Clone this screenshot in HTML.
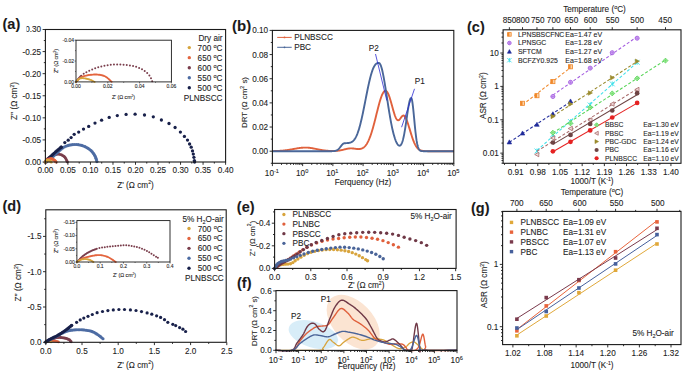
<!DOCTYPE html><html><head><meta charset="utf-8"><style>
html,body{margin:0;padding:0;background:#fff;}
svg{display:block;}
text{stroke:#333;stroke-width:0.1px;}
</style></head><body>
<svg width="685" height="373" viewBox="0 0 685 373" font-family='"Liberation Sans", sans-serif'>
<rect width="685" height="373" fill="#fff"/>
<circle cx="45.4" cy="162" r="1.4" fill="#7a3e4c"/>
<circle cx="46.04" cy="160.99" r="1.4" fill="#7a3e4c"/>
<circle cx="46.68" cy="159.97" r="1.4" fill="#7a3e4c"/>
<circle cx="47.4" cy="159.01" r="1.4" fill="#7a3e4c"/>
<circle cx="48.24" cy="158.15" r="1.4" fill="#7a3e4c"/>
<circle cx="49.21" cy="157.46" r="1.4" fill="#7a3e4c"/>
<circle cx="50.25" cy="156.86" r="1.4" fill="#7a3e4c"/>
<circle cx="51.32" cy="156.32" r="1.4" fill="#7a3e4c"/>
<circle cx="52.41" cy="155.81" r="1.4" fill="#7a3e4c"/>
<circle cx="53.52" cy="155.35" r="1.4" fill="#7a3e4c"/>
<circle cx="54.64" cy="154.94" r="1.4" fill="#7a3e4c"/>
<circle cx="55.79" cy="154.59" r="1.4" fill="#7a3e4c"/>
<circle cx="56.96" cy="154.32" r="1.4" fill="#7a3e4c"/>
<circle cx="58.16" cy="154.22" r="1.4" fill="#7a3e4c"/>
<circle cx="59.35" cy="154.31" r="1.4" fill="#7a3e4c"/>
<circle cx="60.52" cy="154.59" r="1.4" fill="#7a3e4c"/>
<circle cx="61.64" cy="155.02" r="1.4" fill="#7a3e4c"/>
<circle cx="62.7" cy="155.57" r="1.4" fill="#7a3e4c"/>
<circle cx="63.71" cy="156.23" r="1.4" fill="#7a3e4c"/>
<circle cx="64.64" cy="156.99" r="1.4" fill="#7a3e4c"/>
<circle cx="65.38" cy="157.92" r="1.4" fill="#7a3e4c"/>
<circle cx="65.99" cy="158.96" r="1.4" fill="#7a3e4c"/>
<circle cx="66.51" cy="160.04" r="1.4" fill="#7a3e4c"/>
<circle cx="66.98" cy="161.14" r="1.4" fill="#7a3e4c"/>
<circle cx="67.38" cy="162" r="1.4" fill="#7a3e4c"/>
<circle cx="46.3" cy="162" r="1.6" fill="#4d6ca3"/>
<circle cx="47.73" cy="160.91" r="1.6" fill="#4d6ca3"/>
<circle cx="49.16" cy="159.81" r="1.6" fill="#4d6ca3"/>
<circle cx="50.56" cy="158.68" r="1.6" fill="#4d6ca3"/>
<circle cx="51.91" cy="157.49" r="1.6" fill="#4d6ca3"/>
<circle cx="53.24" cy="156.28" r="1.6" fill="#4d6ca3"/>
<circle cx="54.56" cy="155.06" r="1.6" fill="#4d6ca3"/>
<circle cx="55.9" cy="153.85" r="1.6" fill="#4d6ca3"/>
<circle cx="57.24" cy="152.65" r="1.6" fill="#4d6ca3"/>
<circle cx="58.56" cy="151.43" r="1.6" fill="#4d6ca3"/>
<circle cx="59.88" cy="150.21" r="1.6" fill="#4d6ca3"/>
<circle cx="61.24" cy="149.02" r="1.6" fill="#4d6ca3"/>
<circle cx="62.66" cy="147.92" r="1.6" fill="#4d6ca3"/>
<circle cx="64.2" cy="146.98" r="1.6" fill="#4d6ca3"/>
<circle cx="65.83" cy="146.23" r="1.6" fill="#4d6ca3"/>
<circle cx="67.53" cy="145.65" r="1.6" fill="#4d6ca3"/>
<circle cx="69.28" cy="145.19" r="1.6" fill="#4d6ca3"/>
<circle cx="71.04" cy="144.83" r="1.6" fill="#4d6ca3"/>
<circle cx="72.82" cy="144.59" r="1.6" fill="#4d6ca3"/>
<circle cx="74.62" cy="144.48" r="1.6" fill="#4d6ca3"/>
<circle cx="76.42" cy="144.52" r="1.6" fill="#4d6ca3"/>
<circle cx="78.21" cy="144.69" r="1.6" fill="#4d6ca3"/>
<circle cx="79.98" cy="144.98" r="1.6" fill="#4d6ca3"/>
<circle cx="81.73" cy="145.41" r="1.6" fill="#4d6ca3"/>
<circle cx="83.43" cy="146" r="1.6" fill="#4d6ca3"/>
<circle cx="85.08" cy="146.71" r="1.6" fill="#4d6ca3"/>
<circle cx="86.69" cy="147.53" r="1.6" fill="#4d6ca3"/>
<circle cx="88.24" cy="148.45" r="1.6" fill="#4d6ca3"/>
<circle cx="89.71" cy="149.48" r="1.6" fill="#4d6ca3"/>
<circle cx="91.08" cy="150.65" r="1.6" fill="#4d6ca3"/>
<circle cx="92.31" cy="151.96" r="1.6" fill="#4d6ca3"/>
<circle cx="93.42" cy="153.38" r="1.6" fill="#4d6ca3"/>
<circle cx="94.41" cy="154.88" r="1.6" fill="#4d6ca3"/>
<circle cx="95.28" cy="156.45" r="1.6" fill="#4d6ca3"/>
<circle cx="95.93" cy="158.13" r="1.6" fill="#4d6ca3"/>
<circle cx="96.46" cy="159.85" r="1.6" fill="#4d6ca3"/>
<circle cx="96.94" cy="161.58" r="1.6" fill="#4d6ca3"/>
<circle cx="45.4" cy="162.2" r="1.6" fill="#18204a"/>
<circle cx="46.45" cy="160.99" r="1.6" fill="#18204a"/>
<circle cx="47.51" cy="159.79" r="1.6" fill="#18204a"/>
<circle cx="48.59" cy="158.61" r="1.6" fill="#18204a"/>
<circle cx="49.7" cy="157.46" r="1.6" fill="#18204a"/>
<circle cx="50.83" cy="156.33" r="1.6" fill="#18204a"/>
<circle cx="51.98" cy="155.21" r="1.6" fill="#18204a"/>
<circle cx="53.14" cy="154.12" r="1.6" fill="#18204a"/>
<circle cx="54.32" cy="153.04" r="1.6" fill="#18204a"/>
<circle cx="55.52" cy="151.97" r="1.6" fill="#18204a"/>
<circle cx="56.72" cy="150.92" r="1.6" fill="#18204a"/>
<circle cx="57.95" cy="149.89" r="1.6" fill="#18204a"/>
<circle cx="59.18" cy="148.87" r="1.6" fill="#18204a"/>
<circle cx="60.41" cy="147.85" r="1.6" fill="#18204a"/>
<circle cx="61.2" cy="147.2" r="1.6" fill="#18204a"/>
<circle cx="61.2" cy="147.2" r="1.65" fill="#18204a"/>
<circle cx="64.8" cy="142.6" r="1.65" fill="#18204a"/>
<circle cx="68.2" cy="140.2" r="1.65" fill="#18204a"/>
<circle cx="71.1" cy="137.6" r="1.65" fill="#18204a"/>
<circle cx="74.2" cy="134.3" r="1.65" fill="#18204a"/>
<circle cx="78.7" cy="132.1" r="1.65" fill="#18204a"/>
<circle cx="83.5" cy="129.1" r="1.65" fill="#18204a"/>
<circle cx="88.7" cy="126.4" r="1.65" fill="#18204a"/>
<circle cx="95" cy="123.1" r="1.65" fill="#18204a"/>
<circle cx="101.6" cy="120.2" r="1.65" fill="#18204a"/>
<circle cx="109.2" cy="117.4" r="1.65" fill="#18204a"/>
<circle cx="117.3" cy="115.6" r="1.65" fill="#18204a"/>
<circle cx="126.1" cy="114.4" r="1.65" fill="#18204a"/>
<circle cx="135.1" cy="114.2" r="1.65" fill="#18204a"/>
<circle cx="144.5" cy="115" r="1.65" fill="#18204a"/>
<circle cx="153.3" cy="116.8" r="1.65" fill="#18204a"/>
<circle cx="161.4" cy="120" r="1.65" fill="#18204a"/>
<circle cx="169" cy="123.5" r="1.65" fill="#18204a"/>
<circle cx="175.1" cy="127.5" r="1.65" fill="#18204a"/>
<circle cx="180.4" cy="132.1" r="1.65" fill="#18204a"/>
<circle cx="184.4" cy="136.4" r="1.65" fill="#18204a"/>
<circle cx="187.5" cy="140.1" r="1.65" fill="#18204a"/>
<circle cx="189.6" cy="144" r="1.65" fill="#18204a"/>
<circle cx="191.2" cy="147.2" r="1.65" fill="#18204a"/>
<circle cx="192.5" cy="150.9" r="1.65" fill="#18204a"/>
<circle cx="193.3" cy="154.1" r="1.65" fill="#18204a"/>
<circle cx="193.9" cy="157.3" r="1.65" fill="#18204a"/>
<circle cx="194.4" cy="160.6" r="1.65" fill="#18204a"/>
<circle cx="194.6" cy="162" r="1.65" fill="#18204a"/>
<circle cx="45.4" cy="162" r="1.6" fill="#e3653f"/>
<circle cx="45.93" cy="160.93" r="1.6" fill="#e3653f"/>
<circle cx="46.87" cy="160.2" r="1.6" fill="#e3653f"/>
<circle cx="47.92" cy="159.62" r="1.6" fill="#e3653f"/>
<circle cx="49.01" cy="159.11" r="1.6" fill="#e3653f"/>
<circle cx="50.15" cy="158.74" r="1.6" fill="#e3653f"/>
<circle cx="51.34" cy="158.72" r="1.6" fill="#e3653f"/>
<circle cx="52.49" cy="159.05" r="1.6" fill="#e3653f"/>
<circle cx="53.57" cy="159.57" r="1.6" fill="#e3653f"/>
<circle cx="54.56" cy="160.25" r="1.6" fill="#e3653f"/>
<circle cx="55.37" cy="161.13" r="1.6" fill="#e3653f"/>
<circle cx="56.08" cy="162" r="1.6" fill="#e3653f"/>
<circle cx="45.4" cy="162" r="1.5" fill="#d6a43c"/>
<circle cx="46.17" cy="161.08" r="1.5" fill="#d6a43c"/>
<circle cx="47.06" cy="160.29" r="1.5" fill="#d6a43c"/>
<circle cx="48.24" cy="160.24" r="1.5" fill="#d6a43c"/>
<circle cx="49.37" cy="160.64" r="1.5" fill="#d6a43c"/>
<circle cx="50.38" cy="161.27" r="1.5" fill="#d6a43c"/>
<circle cx="51.26" cy="162" r="1.5" fill="#d6a43c"/>
<rect x="45.4" y="29.5" width="180.2" height="132.5" fill="none" stroke="#1a1a1a" stroke-width="1.1"/>
<line x1="42.6" y1="162" x2="45.4" y2="162" stroke="#1a1a1a" stroke-width="0.9" />
<text x="41.1" y="164.95" font-size="8.2" text-anchor="end" font-weight="normal" fill="#1a1a1a" >0.00</text>
<line x1="42.6" y1="139.92" x2="45.4" y2="139.92" stroke="#1a1a1a" stroke-width="0.9" />
<text x="41.1" y="142.87" font-size="8.2" text-anchor="end" font-weight="normal" fill="#1a1a1a" >-0.05</text>
<line x1="42.6" y1="117.83" x2="45.4" y2="117.83" stroke="#1a1a1a" stroke-width="0.9" />
<text x="41.1" y="120.79" font-size="8.2" text-anchor="end" font-weight="normal" fill="#1a1a1a" >-0.10</text>
<line x1="42.6" y1="95.75" x2="45.4" y2="95.75" stroke="#1a1a1a" stroke-width="0.9" />
<text x="41.1" y="98.7" font-size="8.2" text-anchor="end" font-weight="normal" fill="#1a1a1a" >-0.15</text>
<line x1="42.6" y1="73.67" x2="45.4" y2="73.67" stroke="#1a1a1a" stroke-width="0.9" />
<text x="41.1" y="76.62" font-size="8.2" text-anchor="end" font-weight="normal" fill="#1a1a1a" >-0.20</text>
<line x1="42.6" y1="51.58" x2="45.4" y2="51.58" stroke="#1a1a1a" stroke-width="0.9" />
<text x="41.1" y="54.54" font-size="8.2" text-anchor="end" font-weight="normal" fill="#1a1a1a" >-0.25</text>
<line x1="42.6" y1="29.5" x2="45.4" y2="29.5" stroke="#1a1a1a" stroke-width="0.9" />
<text x="41.1" y="32.45" font-size="8.2" text-anchor="end" font-weight="normal" fill="#1a1a1a" >-0.30</text>
<line x1="43.8" y1="150.96" x2="45.4" y2="150.96" stroke="#1a1a1a" stroke-width="0.9" />
<line x1="43.8" y1="128.88" x2="45.4" y2="128.88" stroke="#1a1a1a" stroke-width="0.9" />
<line x1="43.8" y1="106.79" x2="45.4" y2="106.79" stroke="#1a1a1a" stroke-width="0.9" />
<line x1="43.8" y1="84.71" x2="45.4" y2="84.71" stroke="#1a1a1a" stroke-width="0.9" />
<line x1="43.8" y1="62.62" x2="45.4" y2="62.62" stroke="#1a1a1a" stroke-width="0.9" />
<line x1="43.8" y1="40.54" x2="45.4" y2="40.54" stroke="#1a1a1a" stroke-width="0.9" />
<line x1="45.4" y1="162" x2="45.4" y2="164.8" stroke="#1a1a1a" stroke-width="0.9" />
<text x="45.4" y="173.4" font-size="8.2" text-anchor="middle" font-weight="normal" fill="#1a1a1a" >0.00</text>
<line x1="67.92" y1="162" x2="67.92" y2="164.8" stroke="#1a1a1a" stroke-width="0.9" />
<text x="67.92" y="173.4" font-size="8.2" text-anchor="middle" font-weight="normal" fill="#1a1a1a" >0.05</text>
<line x1="90.45" y1="162" x2="90.45" y2="164.8" stroke="#1a1a1a" stroke-width="0.9" />
<text x="90.45" y="173.4" font-size="8.2" text-anchor="middle" font-weight="normal" fill="#1a1a1a" >0.10</text>
<line x1="112.97" y1="162" x2="112.97" y2="164.8" stroke="#1a1a1a" stroke-width="0.9" />
<text x="112.97" y="173.4" font-size="8.2" text-anchor="middle" font-weight="normal" fill="#1a1a1a" >0.15</text>
<line x1="135.5" y1="162" x2="135.5" y2="164.8" stroke="#1a1a1a" stroke-width="0.9" />
<text x="135.5" y="173.4" font-size="8.2" text-anchor="middle" font-weight="normal" fill="#1a1a1a" >0.20</text>
<line x1="158.02" y1="162" x2="158.02" y2="164.8" stroke="#1a1a1a" stroke-width="0.9" />
<text x="158.02" y="173.4" font-size="8.2" text-anchor="middle" font-weight="normal" fill="#1a1a1a" >0.25</text>
<line x1="180.55" y1="162" x2="180.55" y2="164.8" stroke="#1a1a1a" stroke-width="0.9" />
<text x="180.55" y="173.4" font-size="8.2" text-anchor="middle" font-weight="normal" fill="#1a1a1a" >0.30</text>
<line x1="203.07" y1="162" x2="203.07" y2="164.8" stroke="#1a1a1a" stroke-width="0.9" />
<text x="203.07" y="173.4" font-size="8.2" text-anchor="middle" font-weight="normal" fill="#1a1a1a" >0.35</text>
<line x1="225.6" y1="162" x2="225.6" y2="164.8" stroke="#1a1a1a" stroke-width="0.9" />
<text x="225.6" y="173.4" font-size="8.2" text-anchor="middle" font-weight="normal" fill="#1a1a1a" >0.40</text>
<line x1="56.66" y1="162" x2="56.66" y2="163.6" stroke="#1a1a1a" stroke-width="0.9" />
<line x1="79.19" y1="162" x2="79.19" y2="163.6" stroke="#1a1a1a" stroke-width="0.9" />
<line x1="101.71" y1="162" x2="101.71" y2="163.6" stroke="#1a1a1a" stroke-width="0.9" />
<line x1="124.24" y1="162" x2="124.24" y2="163.6" stroke="#1a1a1a" stroke-width="0.9" />
<line x1="146.76" y1="162" x2="146.76" y2="163.6" stroke="#1a1a1a" stroke-width="0.9" />
<line x1="169.29" y1="162" x2="169.29" y2="163.6" stroke="#1a1a1a" stroke-width="0.9" />
<line x1="191.81" y1="162" x2="191.81" y2="163.6" stroke="#1a1a1a" stroke-width="0.9" />
<line x1="214.34" y1="162" x2="214.34" y2="163.6" stroke="#1a1a1a" stroke-width="0.9" />
<text x="135.5" y="187.5" font-size="8.2" text-anchor="middle" font-weight="normal" fill="#1a1a1a" >Z' (Ω cm<tspan dy="-3.12" font-size="5.08">2</tspan><tspan dy="3.12">)</tspan></text>
<text x="16.8" y="101" font-size="8.2" text-anchor="middle" font-weight="normal" fill="#1a1a1a" transform="rotate(-90 16.8 101)">Z'' (Ω cm<tspan dy="-3.12" font-size="5.08">2</tspan><tspan dy="3.12">)</tspan></text>
<rect x="0" y="12" width="26.5" height="22" fill="#fff"/>
<text x="2.5" y="28.8" font-size="14.5" text-anchor="start" font-weight="bold" fill="#1a1a1a" >(a)</text>
<text x="222.5" y="40.5" font-size="8.2" text-anchor="end" font-weight="normal" fill="#1a1a1a" >Dry air</text>
<circle cx="189.3" cy="47.6" r="1.7" fill="#d6a43c"/>
<text x="197.6" y="50.6" font-size="8.2" text-anchor="start" font-weight="normal" fill="#1a1a1a" >700 <tspan font-size="5.5" dy="-2.6">o</tspan><tspan dy="2.6">C</tspan></text>
<circle cx="189.3" cy="57.65" r="1.7" fill="#e3653f"/>
<text x="197.6" y="60.65" font-size="8.2" text-anchor="start" font-weight="normal" fill="#1a1a1a" >650 <tspan font-size="5.5" dy="-2.6">o</tspan><tspan dy="2.6">C</tspan></text>
<circle cx="189.3" cy="67.7" r="1.7" fill="#7a3e4c"/>
<text x="197.6" y="70.7" font-size="8.2" text-anchor="start" font-weight="normal" fill="#1a1a1a" >600 <tspan font-size="5.5" dy="-2.6">o</tspan><tspan dy="2.6">C</tspan></text>
<circle cx="189.3" cy="77.75" r="1.7" fill="#4d6ca3"/>
<text x="197.6" y="80.75" font-size="8.2" text-anchor="start" font-weight="normal" fill="#1a1a1a" >550 <tspan font-size="5.5" dy="-2.6">o</tspan><tspan dy="2.6">C</tspan></text>
<circle cx="189.3" cy="87.8" r="1.7" fill="#18204a"/>
<text x="197.6" y="90.8" font-size="8.2" text-anchor="start" font-weight="normal" fill="#1a1a1a" >500 <tspan font-size="5.5" dy="-2.6">o</tspan><tspan dy="2.6">C</tspan></text>
<text x="222.5" y="100.5" font-size="8.2" text-anchor="end" font-weight="normal" fill="#1a1a1a" >PLNBSCC</text>
<circle cx="76" cy="81.9" r="1.0" fill="#7a3e4c"/>
<circle cx="76.6" cy="81.1" r="1.0" fill="#7a3e4c"/>
<circle cx="77.19" cy="80.29" r="1.0" fill="#7a3e4c"/>
<circle cx="77.79" cy="79.49" r="1.0" fill="#7a3e4c"/>
<circle cx="78.4" cy="78.7" r="1.0" fill="#7a3e4c"/>
<circle cx="79.04" cy="77.93" r="1.0" fill="#7a3e4c"/>
<circle cx="79.71" cy="77.19" r="1.0" fill="#7a3e4c"/>
<circle cx="80.42" cy="76.48" r="1.0" fill="#7a3e4c"/>
<circle cx="81.17" cy="75.83" r="1.0" fill="#7a3e4c"/>
<circle cx="83.7" cy="73.86" r="1.0" fill="#7a3e4c"/>
<circle cx="86.4" cy="72.15" r="1.0" fill="#7a3e4c"/>
<circle cx="89.25" cy="70.71" r="1.0" fill="#7a3e4c"/>
<circle cx="92.2" cy="69.45" r="1.0" fill="#7a3e4c"/>
<circle cx="95.19" cy="68.33" r="1.0" fill="#7a3e4c"/>
<circle cx="98.23" cy="67.34" r="1.0" fill="#7a3e4c"/>
<circle cx="101.32" cy="66.5" r="1.0" fill="#7a3e4c"/>
<circle cx="104.45" cy="65.82" r="1.0" fill="#7a3e4c"/>
<circle cx="107.6" cy="65.27" r="1.0" fill="#7a3e4c"/>
<circle cx="110.77" cy="64.86" r="1.0" fill="#7a3e4c"/>
<circle cx="113.96" cy="64.58" r="1.0" fill="#7a3e4c"/>
<circle cx="117.16" cy="64.46" r="1.0" fill="#7a3e4c"/>
<circle cx="120.36" cy="64.49" r="1.0" fill="#7a3e4c"/>
<circle cx="123.55" cy="64.65" r="1.0" fill="#7a3e4c"/>
<circle cx="126.74" cy="64.95" r="1.0" fill="#7a3e4c"/>
<circle cx="129.91" cy="65.4" r="1.0" fill="#7a3e4c"/>
<circle cx="133.05" cy="66.03" r="1.0" fill="#7a3e4c"/>
<circle cx="136.14" cy="66.85" r="1.0" fill="#7a3e4c"/>
<circle cx="139.15" cy="67.93" r="1.0" fill="#7a3e4c"/>
<circle cx="142.03" cy="69.32" r="1.0" fill="#7a3e4c"/>
<circle cx="144.71" cy="71.06" r="1.0" fill="#7a3e4c"/>
<circle cx="147.17" cy="73.1" r="1.0" fill="#7a3e4c"/>
<circle cx="149.38" cy="75.42" r="1.0" fill="#7a3e4c"/>
<circle cx="150.99" cy="78.17" r="1.0" fill="#7a3e4c"/>
<circle cx="152.17" cy="81.15" r="1.0" fill="#7a3e4c"/>
<circle cx="76" cy="81.9" r="0.95" fill="#e3653f"/>
<circle cx="76.71" cy="81.2" r="0.95" fill="#e3653f"/>
<circle cx="77.4" cy="80.47" r="0.95" fill="#e3653f"/>
<circle cx="78.09" cy="79.75" r="0.95" fill="#e3653f"/>
<circle cx="78.81" cy="79.06" r="0.95" fill="#e3653f"/>
<circle cx="79.56" cy="78.4" r="0.95" fill="#e3653f"/>
<circle cx="80.36" cy="77.79" r="0.95" fill="#e3653f"/>
<circle cx="81.2" cy="77.25" r="0.95" fill="#e3653f"/>
<circle cx="82.09" cy="76.8" r="0.95" fill="#e3653f"/>
<circle cx="83.02" cy="76.44" r="0.95" fill="#e3653f"/>
<circle cx="83.98" cy="76.14" r="0.95" fill="#e3653f"/>
<circle cx="84.94" cy="75.87" r="0.95" fill="#e3653f"/>
<circle cx="85.91" cy="75.63" r="0.95" fill="#e3653f"/>
<circle cx="86.89" cy="75.42" r="0.95" fill="#e3653f"/>
<circle cx="87.87" cy="75.23" r="0.95" fill="#e3653f"/>
<circle cx="88.86" cy="75.06" r="0.95" fill="#e3653f"/>
<circle cx="89.85" cy="74.91" r="0.95" fill="#e3653f"/>
<circle cx="90.84" cy="74.79" r="0.95" fill="#e3653f"/>
<circle cx="91.83" cy="74.68" r="0.95" fill="#e3653f"/>
<circle cx="92.83" cy="74.59" r="0.95" fill="#e3653f"/>
<circle cx="93.83" cy="74.53" r="0.95" fill="#e3653f"/>
<circle cx="94.82" cy="74.49" r="0.95" fill="#e3653f"/>
<circle cx="95.82" cy="74.49" r="0.95" fill="#e3653f"/>
<circle cx="96.82" cy="74.52" r="0.95" fill="#e3653f"/>
<circle cx="97.82" cy="74.58" r="0.95" fill="#e3653f"/>
<circle cx="98.82" cy="74.68" r="0.95" fill="#e3653f"/>
<circle cx="99.81" cy="74.82" r="0.95" fill="#e3653f"/>
<circle cx="100.79" cy="74.99" r="0.95" fill="#e3653f"/>
<circle cx="101.77" cy="75.21" r="0.95" fill="#e3653f"/>
<circle cx="102.73" cy="75.48" r="0.95" fill="#e3653f"/>
<circle cx="103.68" cy="75.79" r="0.95" fill="#e3653f"/>
<circle cx="104.61" cy="76.16" r="0.95" fill="#e3653f"/>
<circle cx="105.5" cy="76.61" r="0.95" fill="#e3653f"/>
<circle cx="106.35" cy="77.14" r="0.95" fill="#e3653f"/>
<circle cx="107.16" cy="77.73" r="0.95" fill="#e3653f"/>
<circle cx="107.94" cy="78.36" r="0.95" fill="#e3653f"/>
<circle cx="108.69" cy="79.02" r="0.95" fill="#e3653f"/>
<circle cx="109.43" cy="79.69" r="0.95" fill="#e3653f"/>
<circle cx="110.15" cy="80.38" r="0.95" fill="#e3653f"/>
<circle cx="110.87" cy="81.08" r="0.95" fill="#e3653f"/>
<circle cx="111.6" cy="81.76" r="0.95" fill="#e3653f"/>
<circle cx="76" cy="81.9" r="0.95" fill="#d6a43c"/>
<circle cx="76.65" cy="81.14" r="0.95" fill="#d6a43c"/>
<circle cx="77.29" cy="80.37" r="0.95" fill="#d6a43c"/>
<circle cx="77.98" cy="79.65" r="0.95" fill="#d6a43c"/>
<circle cx="78.75" cy="79.02" r="0.95" fill="#d6a43c"/>
<circle cx="79.65" cy="78.58" r="0.95" fill="#d6a43c"/>
<circle cx="80.62" cy="78.32" r="0.95" fill="#d6a43c"/>
<circle cx="81.61" cy="78.2" r="0.95" fill="#d6a43c"/>
<circle cx="82.61" cy="78.17" r="0.95" fill="#d6a43c"/>
<circle cx="83.6" cy="78.22" r="0.95" fill="#d6a43c"/>
<circle cx="84.6" cy="78.33" r="0.95" fill="#d6a43c"/>
<circle cx="85.58" cy="78.5" r="0.95" fill="#d6a43c"/>
<circle cx="86.56" cy="78.72" r="0.95" fill="#d6a43c"/>
<circle cx="87.53" cy="78.97" r="0.95" fill="#d6a43c"/>
<circle cx="88.49" cy="79.24" r="0.95" fill="#d6a43c"/>
<circle cx="89.45" cy="79.53" r="0.95" fill="#d6a43c"/>
<circle cx="90.4" cy="79.85" r="0.95" fill="#d6a43c"/>
<circle cx="91.33" cy="80.21" r="0.95" fill="#d6a43c"/>
<circle cx="92.23" cy="80.64" r="0.95" fill="#d6a43c"/>
<circle cx="93.12" cy="81.1" r="0.95" fill="#d6a43c"/>
<circle cx="94" cy="81.58" r="0.95" fill="#d6a43c"/>
<circle cx="94.6" cy="81.9" r="0.95" fill="#d6a43c"/>
<rect x="76" y="40.2" width="95.4" height="41.7" fill="none" stroke="#1a1a1a" stroke-width="0.9"/>
<line x1="74.5" y1="81.9" x2="76" y2="81.9" stroke="#1a1a1a" stroke-width="0.6" />
<text x="74" y="83.7" font-size="5.0" text-anchor="end" font-weight="normal" fill="#1a1a1a" >0.00</text>
<line x1="74.5" y1="61.05" x2="76" y2="61.05" stroke="#1a1a1a" stroke-width="0.6" />
<text x="74" y="62.85" font-size="5.0" text-anchor="end" font-weight="normal" fill="#1a1a1a" >-0.02</text>
<line x1="74.5" y1="40.2" x2="76" y2="40.2" stroke="#1a1a1a" stroke-width="0.6" />
<text x="74" y="42" font-size="5.0" text-anchor="end" font-weight="normal" fill="#1a1a1a" >-0.04</text>
<line x1="75.1" y1="71.48" x2="76" y2="71.48" stroke="#1a1a1a" stroke-width="0.6" />
<line x1="75.1" y1="50.63" x2="76" y2="50.63" stroke="#1a1a1a" stroke-width="0.6" />
<line x1="76" y1="81.9" x2="76" y2="83.4" stroke="#1a1a1a" stroke-width="0.6" />
<text x="76" y="88.2" font-size="5.0" text-anchor="middle" font-weight="normal" fill="#1a1a1a" >0.00</text>
<line x1="107.8" y1="81.9" x2="107.8" y2="83.4" stroke="#1a1a1a" stroke-width="0.6" />
<text x="107.8" y="88.2" font-size="5.0" text-anchor="middle" font-weight="normal" fill="#1a1a1a" >0.02</text>
<line x1="139.6" y1="81.9" x2="139.6" y2="83.4" stroke="#1a1a1a" stroke-width="0.6" />
<text x="139.6" y="88.2" font-size="5.0" text-anchor="middle" font-weight="normal" fill="#1a1a1a" >0.04</text>
<line x1="171.4" y1="81.9" x2="171.4" y2="83.4" stroke="#1a1a1a" stroke-width="0.6" />
<text x="171.4" y="88.2" font-size="5.0" text-anchor="middle" font-weight="normal" fill="#1a1a1a" >0.06</text>
<line x1="91.9" y1="81.9" x2="91.9" y2="82.8" stroke="#1a1a1a" stroke-width="0.6" />
<line x1="123.7" y1="81.9" x2="123.7" y2="82.8" stroke="#1a1a1a" stroke-width="0.6" />
<line x1="155.5" y1="81.9" x2="155.5" y2="82.8" stroke="#1a1a1a" stroke-width="0.6" />
<text x="123.5" y="98.5" font-size="5.2" text-anchor="middle" font-weight="normal" fill="#1a1a1a" >Z' (Ω cm<tspan dy="-1.98" font-size="3.22">2</tspan><tspan dy="1.98">)</tspan></text>
<text x="57.5" y="61" font-size="5.2" text-anchor="middle" font-weight="normal" fill="#1a1a1a" transform="rotate(-90 57.5 61)">Z'' (Ω cm<tspan dy="-1.98" font-size="3.22">2</tspan><tspan dy="1.98">)</tspan></text>
<polyline points="272.4,151.12 272.7,151.11 273,151.11 273.31,151.1 273.61,151.09 273.91,151.08 274.21,151.08 274.52,151.07 274.82,151.06 275.12,151.05 275.42,151.04 275.73,151.03 276.03,151.02 276.33,151.01 276.63,151 276.94,150.98 277.24,150.97 277.54,150.96 277.84,150.94 278.14,150.93 278.45,150.91 278.75,150.9 279.05,150.88 279.35,150.86 279.66,150.84 279.96,150.82 280.26,150.8 280.56,150.78 280.87,150.76 281.17,150.73 281.47,150.71 281.77,150.68 282.07,150.66 282.38,150.63 282.68,150.6 282.98,150.58 283.28,150.55 283.59,150.51 283.89,150.48 284.19,150.45 284.49,150.42 284.8,150.38 285.1,150.35 285.4,150.31 285.7,150.27 286,150.23 286.31,150.19 286.61,150.15 286.91,150.11 287.21,150.07 287.52,150.02 287.82,149.98 288.12,149.93 288.42,149.89 288.73,149.84 289.03,149.79 289.33,149.74 289.63,149.69 289.94,149.64 290.24,149.59 290.54,149.54 290.84,149.49 291.14,149.44 291.45,149.38 291.75,149.33 292.05,149.28 292.35,149.22 292.66,149.17 292.96,149.11 293.26,149.06 293.56,149 293.87,148.95 294.17,148.89 294.47,148.84 294.77,148.78 295.07,148.73 295.38,148.67 295.68,148.62 295.98,148.57 296.28,148.52 296.59,148.46 296.89,148.41 297.19,148.36 297.49,148.31 297.8,148.27 298.1,148.22 298.4,148.17 298.7,148.13 299.01,148.08 299.31,148.04 299.61,148 299.91,147.96 300.21,147.92 300.52,147.89 300.82,147.85 301.12,147.82 301.42,147.79 301.73,147.76 302.03,147.74 302.33,147.71 302.63,147.69 302.94,147.67 303.24,147.65 303.54,147.63 303.84,147.62 304.14,147.6 304.45,147.59 304.75,147.59 305.05,147.58 305.35,147.58 305.66,147.58 305.96,147.58 306.26,147.58 306.56,147.59 306.87,147.6 307.17,147.61 307.47,147.63 307.77,147.65 308.08,147.67 308.38,147.69 308.68,147.72 308.98,147.75 309.28,147.78 309.59,147.82 309.89,147.85 310.19,147.89 310.49,147.94 310.8,147.98 311.1,148.02 311.4,148.07 311.7,148.12 312.01,148.17 312.31,148.23 312.61,148.28 312.91,148.34 313.21,148.39 313.52,148.45 313.82,148.51 314.12,148.57 314.42,148.63 314.73,148.69 315.03,148.75 315.33,148.81 315.63,148.88 315.94,148.94 316.24,149 316.54,149.06 316.84,149.13 317.15,149.19 317.45,149.25 317.75,149.31 318.05,149.38 318.35,149.44 318.66,149.5 318.96,149.56 319.26,149.61 319.56,149.67 319.87,149.73 320.17,149.78 320.47,149.84 320.77,149.89 321.08,149.95 321.38,150 321.68,150.05 321.98,150.1 322.28,150.15 322.59,150.19 322.89,150.24 323.19,150.28 323.49,150.32 323.8,150.37 324.1,150.41 324.4,150.44 324.7,150.48 325.01,150.52 325.31,150.55 325.61,150.59 325.91,150.62 326.22,150.65 326.52,150.68 326.82,150.71 327.12,150.73 327.42,150.76 327.73,150.78 328.03,150.8 328.33,150.83 328.63,150.85 328.94,150.86 329.24,150.88 329.54,150.9 329.84,150.91 330.15,150.93 330.45,150.94 330.75,150.95 331.05,150.96 331.35,150.97 331.66,150.98 331.96,150.98 332.26,150.99 332.56,150.99 332.87,150.99 333.17,150.99 333.47,150.99 333.77,150.98 334.08,150.98 334.38,150.97 334.68,150.96 334.98,150.95 335.29,150.94 335.59,150.92 335.89,150.91 336.19,150.89 336.49,150.86 336.8,150.84 337.1,150.81 337.4,150.78 337.7,150.75 338.01,150.72 338.31,150.68 338.61,150.64 338.91,150.6 339.22,150.55 339.52,150.5 339.82,150.45 340.12,150.4 340.42,150.34 340.73,150.28 341.03,150.22 341.33,150.16 341.63,150.09 341.94,150.02 342.24,149.95 342.54,149.88 342.84,149.81 343.15,149.74 343.45,149.66 343.75,149.58 344.05,149.51 344.36,149.43 344.66,149.36 344.96,149.28 345.26,149.21 345.56,149.13 345.87,149.06 346.17,148.99 346.47,148.92 346.77,148.86 347.08,148.8 347.38,148.74 347.68,148.68 347.98,148.63 348.29,148.58 348.59,148.54 348.89,148.5 349.19,148.47 349.5,148.44 349.8,148.42 350.1,148.4 350.4,148.39 350.7,148.38 351.01,148.38 351.31,148.38 351.61,148.39 351.91,148.4 352.22,148.42 352.52,148.44 352.82,148.47 353.12,148.49 353.43,148.53 353.73,148.56 354.03,148.6 354.33,148.64 354.63,148.68 354.94,148.72 355.24,148.76 355.54,148.81 355.84,148.85 356.15,148.89 356.45,148.93 356.75,148.96 357.05,148.99 357.36,149.02 357.66,149.04 357.96,149.06 358.26,149.07 358.56,149.08 358.87,149.07 359.17,149.06 359.47,149.04 359.77,149.01 360.08,148.97 360.38,148.92 360.68,148.86 360.98,148.78 361.29,148.69 361.59,148.59 361.89,148.47 362.19,148.33 362.5,148.18 362.8,148.01 363.1,147.83 363.4,147.62 363.7,147.4 364.01,147.15 364.31,146.89 364.61,146.6 364.91,146.29 365.22,145.95 365.52,145.6 365.82,145.21 366.12,144.81 366.43,144.37 366.73,143.91 367.03,143.42 367.33,142.9 367.63,142.36 367.94,141.78 368.24,141.18 368.54,140.55 368.84,139.88 369.15,139.19 369.45,138.46 369.75,137.71 370.05,136.92 370.36,136.1 370.66,135.26 370.96,134.38 371.26,133.47 371.57,132.54 371.87,131.57 372.17,130.58 372.47,129.56 372.77,128.52 373.08,127.45 373.38,126.36 373.68,125.25 373.98,124.11 374.29,122.96 374.59,121.8 374.89,120.61 375.19,119.42 375.5,118.21 375.8,117 376.1,115.78 376.4,114.56 376.7,113.34 377.01,112.13 377.31,110.91 377.61,109.71 377.91,108.52 378.22,107.34 378.52,106.18 378.82,105.04 379.12,103.92 379.43,102.84 379.73,101.78 380.03,100.75 380.33,99.76 380.64,98.81 380.94,97.9 381.24,97.03 381.54,96.21 381.84,95.44 382.15,94.73 382.45,94.06 382.75,93.46 383.05,92.91 383.36,92.42 383.66,92 383.96,91.63 384.26,91.33 384.57,91.1 384.87,90.93 385.17,90.83 385.47,90.8 385.77,90.83 386.08,90.95 386.38,91.14 386.68,91.4 386.98,91.74 387.29,92.15 387.59,92.63 387.89,93.18 388.19,93.79 388.5,94.47 388.8,95.21 389.1,96.01 389.4,96.85 389.71,97.75 390.01,98.69 390.31,99.68 390.61,100.69 390.91,101.74 391.22,102.81 391.52,103.9 391.82,105.01 392.12,106.12 392.43,107.23 392.73,108.34 393.03,109.44 393.33,110.51 393.64,111.56 393.94,112.58 394.24,113.56 394.54,114.49 394.84,115.37 395.15,116.2 395.45,116.95 395.75,117.64 396.05,118.26 396.36,118.79 396.66,119.25 396.96,119.62 397.26,119.91 397.57,120.11 397.87,120.22 398.17,120.26 398.47,120.21 398.78,120.09 399.08,119.9 399.38,119.65 399.68,119.34 399.98,118.99 400.29,118.6 400.59,118.19 400.89,117.77 401.19,117.35 401.5,116.95 401.8,116.57 402.1,116.23 402.4,115.94 402.71,115.72 403.01,115.56 403.31,115.5 403.61,115.52 403.92,115.64 404.22,115.86 404.52,116.19 404.82,116.61 405.12,117.07 405.43,117.58 405.73,118.15 406.03,118.76 406.33,119.43 406.64,120.14 406.94,120.9 407.24,121.69 407.54,122.53 407.85,123.4 408.15,124.3 408.45,125.23 408.75,126.19 409.05,127.16 409.36,128.14 409.66,129.14 409.96,130.14 410.26,131.14 410.57,132.14 410.87,133.13 411.17,134.11 411.47,135.07 411.78,136.02 412.08,136.94 412.38,137.84 412.68,138.71 412.99,139.56 413.29,140.37 413.59,141.15 413.89,141.9 414.19,142.61 414.5,143.29 414.8,143.93 415.1,144.54 415.4,145.11 415.71,145.64 416.01,146.14 416.31,146.61 416.61,147.04 416.92,147.45 417.22,147.82 417.52,148.16 417.82,148.47 418.12,148.76 418.43,149.02 418.73,149.26 419.03,149.48 419.33,149.68 419.64,149.86 419.94,150.02 420.24,150.16 420.54,150.29 420.85,150.4 421.15,150.5 421.45,150.59 421.75,150.67 422.06,150.74 422.36,150.81 422.66,150.86 422.96,150.91 423.26,150.95 423.57,150.99 423.87,151.02 424.17,151.04 424.47,151.07 424.78,151.09 425.08,151.11 425.38,151.12 425.68,151.13 425.99,151.14 426.29,151.15 426.59,151.16 426.89,151.17 427.19,151.17 427.5,151.18 427.8,151.18 428.1,151.18 428.4,151.19 428.71,151.19 429.01,151.19 429.31,151.19 429.61,151.19 429.92,151.2 430.22,151.2 430.52,151.2 430.82,151.2 431.12,151.2 431.43,151.2 431.73,151.2 432.03,151.2 432.33,151.2 432.64,151.2 432.94,151.2 433.24,151.2 433.54,151.2 433.85,151.2 434.15,151.2 434.45,151.2 434.75,151.2 435.06,151.2 435.36,151.2 435.66,151.2 435.96,151.2 436.26,151.2 436.57,151.2 436.87,151.2 437.17,151.2 437.47,151.2 437.78,151.2 438.08,151.2 438.38,151.2 438.68,151.2 438.99,151.2 439.29,151.2 439.59,151.2 439.89,151.2 440.19,151.2 440.5,151.2 440.8,151.2 441.1,151.2 441.4,151.2 441.71,151.2 442.01,151.2 442.31,151.2 442.61,151.2 442.92,151.2 443.22,151.2 443.52,151.2 443.82,151.2 444.13,151.2 444.43,151.2 444.73,151.2 445.03,151.2 445.33,151.2 445.64,151.2 445.94,151.2 446.24,151.2 446.54,151.2 446.85,151.2 447.15,151.2 447.45,151.2 447.75,151.2 448.06,151.2 448.36,151.2 448.66,151.2 448.96,151.2 449.26,151.2 449.57,151.2 449.87,151.2 450.17,151.2 450.47,151.2 450.78,151.2 451.08,151.2 451.38,151.2 451.68,151.2 451.99,151.2 452.29,151.2 452.59,151.2 452.89,151.2 453.2,151.2 453.5,151.2 453.8,151.2" fill="none" stroke="#e0613c" stroke-width="1.9" stroke-linejoin="round" />
<polyline points="272.4,151.2 272.7,151.2 273,151.2 273.31,151.2 273.61,151.2 273.91,151.2 274.21,151.2 274.52,151.2 274.82,151.2 275.12,151.2 275.42,151.2 275.73,151.2 276.03,151.2 276.33,151.2 276.63,151.2 276.94,151.2 277.24,151.2 277.54,151.2 277.84,151.2 278.14,151.2 278.45,151.2 278.75,151.2 279.05,151.2 279.35,151.2 279.66,151.2 279.96,151.2 280.26,151.2 280.56,151.2 280.87,151.2 281.17,151.2 281.47,151.2 281.77,151.2 282.07,151.2 282.38,151.2 282.68,151.2 282.98,151.2 283.28,151.2 283.59,151.2 283.89,151.2 284.19,151.2 284.49,151.2 284.8,151.2 285.1,151.2 285.4,151.2 285.7,151.2 286,151.2 286.31,151.2 286.61,151.2 286.91,151.2 287.21,151.2 287.52,151.2 287.82,151.2 288.12,151.2 288.42,151.2 288.73,151.2 289.03,151.2 289.33,151.2 289.63,151.2 289.94,151.2 290.24,151.2 290.54,151.2 290.84,151.2 291.14,151.2 291.45,151.2 291.75,151.2 292.05,151.2 292.35,151.2 292.66,151.2 292.96,151.2 293.26,151.2 293.56,151.2 293.87,151.2 294.17,151.2 294.47,151.2 294.77,151.2 295.07,151.2 295.38,151.2 295.68,151.2 295.98,151.2 296.28,151.2 296.59,151.2 296.89,151.2 297.19,151.2 297.49,151.2 297.8,151.2 298.1,151.2 298.4,151.2 298.7,151.2 299.01,151.2 299.31,151.2 299.61,151.2 299.91,151.2 300.21,151.2 300.52,151.2 300.82,151.2 301.12,151.2 301.42,151.2 301.73,151.2 302.03,151.2 302.33,151.2 302.63,151.2 302.94,151.2 303.24,151.2 303.54,151.2 303.84,151.2 304.14,151.2 304.45,151.2 304.75,151.2 305.05,151.2 305.35,151.2 305.66,151.2 305.96,151.2 306.26,151.2 306.56,151.2 306.87,151.2 307.17,151.2 307.47,151.2 307.77,151.2 308.08,151.2 308.38,151.2 308.68,151.2 308.98,151.2 309.28,151.2 309.59,151.2 309.89,151.2 310.19,151.2 310.49,151.2 310.8,151.2 311.1,151.2 311.4,151.2 311.7,151.2 312.01,151.2 312.31,151.2 312.61,151.2 312.91,151.2 313.21,151.2 313.52,151.2 313.82,151.2 314.12,151.2 314.42,151.2 314.73,151.2 315.03,151.2 315.33,151.2 315.63,151.2 315.94,151.2 316.24,151.2 316.54,151.2 316.84,151.2 317.15,151.2 317.45,151.2 317.75,151.2 318.05,151.2 318.35,151.2 318.66,151.2 318.96,151.2 319.26,151.2 319.56,151.2 319.87,151.2 320.17,151.2 320.47,151.2 320.77,151.2 321.08,151.2 321.38,151.2 321.68,151.2 321.98,151.2 322.28,151.2 322.59,151.2 322.89,151.2 323.19,151.2 323.49,151.2 323.8,151.2 324.1,151.2 324.4,151.2 324.7,151.2 325.01,151.2 325.31,151.2 325.61,151.2 325.91,151.2 326.22,151.2 326.52,151.2 326.82,151.2 327.12,151.2 327.42,151.2 327.73,151.2 328.03,151.2 328.33,151.2 328.63,151.2 328.94,151.2 329.24,151.2 329.54,151.2 329.84,151.2 330.15,151.2 330.45,151.19 330.75,151.19 331.05,151.19 331.35,151.19 331.66,151.18 331.96,151.18 332.26,151.17 332.56,151.16 332.87,151.15 333.17,151.13 333.47,151.11 333.77,151.09 334.08,151.06 334.38,151.02 334.68,150.98 334.98,150.92 335.29,150.86 335.59,150.78 335.89,150.69 336.19,150.58 336.49,150.46 336.8,150.31 337.1,150.15 337.4,149.96 337.7,149.75 338.01,149.52 338.31,149.26 338.61,148.98 338.91,148.68 339.22,148.35 339.52,148 339.82,147.64 340.12,147.26 340.42,146.87 340.73,146.47 341.03,146.08 341.33,145.69 341.63,145.31 341.94,144.94 342.24,144.6 342.54,144.29 342.84,144.01 343.15,143.77 343.45,143.57 343.75,143.42 344.05,143.32 344.36,143.26 344.66,143.24 344.96,143.22 345.26,143.2 345.56,143.18 345.87,143.16 346.17,143.14 346.47,143.13 346.77,143.11 347.08,143.09 347.38,143.07 347.68,143.05 347.98,143.02 348.29,142.99 348.59,142.95 348.89,142.91 349.19,142.86 349.5,142.8 349.8,142.73 350.1,142.65 350.4,142.55 350.7,142.45 351.01,142.32 351.31,142.18 351.61,142.03 351.91,141.85 352.22,141.66 352.52,141.44 352.82,141.19 353.12,140.93 353.43,140.63 353.73,140.31 354.03,139.96 354.33,139.58 354.63,139.16 354.94,138.72 355.24,138.24 355.54,137.72 355.84,137.16 356.15,136.57 356.45,135.94 356.75,135.27 357.05,134.56 357.36,133.81 357.66,133.01 357.96,132.18 358.26,131.3 358.56,130.38 358.87,129.42 359.17,128.42 359.47,127.38 359.77,126.29 360.08,125.17 360.38,124.01 360.68,122.8 360.98,121.57 361.29,120.29 361.59,118.99 361.89,117.65 362.19,116.28 362.5,114.88 362.8,113.45 363.1,112 363.4,110.53 363.7,109.05 364.01,107.54 364.31,106.02 364.61,104.49 364.91,102.95 365.22,101.41 365.52,99.87 365.82,98.32 366.12,96.78 366.43,95.25 366.73,93.73 367.03,92.22 367.33,90.72 367.63,89.25 367.94,87.79 368.24,86.37 368.54,84.96 368.84,83.59 369.15,82.25 369.45,80.95 369.75,79.68 370.05,78.46 370.36,77.27 370.66,76.13 370.96,75.03 371.26,73.98 371.57,72.97 371.87,72.01 372.17,71.11 372.47,70.25 372.77,69.44 373.08,68.69 373.38,67.98 373.68,67.33 373.98,66.72 374.29,66.17 374.59,65.67 374.89,65.21 375.19,64.81 375.5,64.45 375.8,64.13 376.1,63.86 376.4,63.63 376.7,63.44 377.01,63.29 377.31,63.17 377.61,63.08 377.91,63.03 378.22,62.99 378.52,62.98 378.82,62.98 379.12,63.04 379.43,63.23 379.73,63.53 380.03,63.95 380.33,64.49 380.64,65.15 380.94,65.91 381.24,66.79 381.54,67.77 381.84,68.85 382.15,70.03 382.45,71.3 382.75,72.66 383.05,74.1 383.36,75.62 383.66,77.21 383.96,78.87 384.26,80.58 384.57,82.35 384.87,84.17 385.17,86.03 385.47,87.92 385.77,89.85 386.08,91.79 386.38,93.76 386.68,95.73 386.98,97.71 387.29,99.69 387.59,101.67 387.89,103.63 388.19,105.58 388.5,107.51 388.8,109.41 389.1,111.29 389.4,113.14 389.71,114.94 390.01,116.72 390.31,118.44 390.61,120.13 390.91,121.77 391.22,123.36 391.52,124.9 391.82,126.38 392.12,127.82 392.43,129.2 392.73,130.53 393.03,131.8 393.33,133.02 393.64,134.18 393.94,135.29 394.24,136.34 394.54,137.33 394.84,138.28 395.15,139.16 395.45,139.99 395.75,140.77 396.05,141.5 396.36,142.17 396.66,142.78 396.96,143.34 397.26,143.85 397.57,144.29 397.87,144.68 398.17,145.01 398.47,145.28 398.78,145.49 399.08,145.62 399.38,145.69 399.68,145.69 399.98,145.6 400.29,145.44 400.59,145.19 400.89,144.85 401.19,144.41 401.5,143.88 401.8,143.24 402.1,142.5 402.4,141.64 402.71,140.67 403.01,139.59 403.31,138.39 403.61,137.07 403.92,135.64 404.22,134.1 404.52,132.45 404.82,130.7 405.12,128.86 405.43,126.94 405.73,124.94 406.03,122.89 406.33,120.81 406.64,118.7 406.94,116.58 407.24,114.48 407.54,112.42 407.85,110.42 408.15,108.5 408.45,106.68 408.75,104.99 409.05,103.44 409.36,102.05 409.66,100.85 409.96,99.84 410.26,99.05 410.57,98.47 410.87,98.13 411.17,98.01 411.47,98.28 411.78,99.07 412.08,100.36 412.38,102.12 412.68,104.28 412.99,106.79 413.29,109.59 413.59,112.59 413.89,115.74 414.19,118.95 414.5,122.17 414.8,125.32 415.1,128.36 415.4,131.25 415.71,133.94 416.01,136.42 416.31,138.67 416.61,140.68 416.92,142.46 417.22,144.01 417.52,145.34 417.82,146.47 418.12,147.43 418.43,148.22 418.73,148.86 419.03,149.39 419.33,149.81 419.64,150.15 419.94,150.41 420.24,150.61 420.54,150.76 420.85,150.88 421.15,150.97 421.45,151.04 421.75,151.08 422.06,151.12 422.36,151.14 422.66,151.16 422.96,151.17 423.26,151.18 423.57,151.19 423.87,151.19 424.17,151.19 424.47,151.2 424.78,151.2 425.08,151.2 425.38,151.2 425.68,151.2 425.99,151.2 426.29,151.2 426.59,151.2 426.89,151.2 427.19,151.2 427.5,151.2 427.8,151.2 428.1,151.2 428.4,151.2 428.71,151.2 429.01,151.2 429.31,151.2 429.61,151.2 429.92,151.2 430.22,151.2 430.52,151.2 430.82,151.2 431.12,151.2 431.43,151.2 431.73,151.2 432.03,151.2 432.33,151.2 432.64,151.2 432.94,151.2 433.24,151.2 433.54,151.2 433.85,151.2 434.15,151.2 434.45,151.2 434.75,151.2 435.06,151.2 435.36,151.2 435.66,151.2 435.96,151.2 436.26,151.2 436.57,151.2 436.87,151.2 437.17,151.2 437.47,151.2 437.78,151.2 438.08,151.2 438.38,151.2 438.68,151.2 438.99,151.2 439.29,151.2 439.59,151.2 439.89,151.2 440.19,151.2 440.5,151.2 440.8,151.2 441.1,151.2 441.4,151.2 441.71,151.2 442.01,151.2 442.31,151.2 442.61,151.2 442.92,151.2 443.22,151.2 443.52,151.2 443.82,151.2 444.13,151.2 444.43,151.2 444.73,151.2 445.03,151.2 445.33,151.2 445.64,151.2 445.94,151.2 446.24,151.2 446.54,151.2 446.85,151.2 447.15,151.2 447.45,151.2 447.75,151.2 448.06,151.2 448.36,151.2 448.66,151.2 448.96,151.2 449.26,151.2 449.57,151.2 449.87,151.2 450.17,151.2 450.47,151.2 450.78,151.2 451.08,151.2 451.38,151.2 451.68,151.2 451.99,151.2 452.29,151.2 452.59,151.2 452.89,151.2 453.2,151.2 453.5,151.2 453.8,151.2" fill="none" stroke="#4a6799" stroke-width="1.9" stroke-linejoin="round" />
<line x1="375.5" y1="54" x2="386.8" y2="100.5" stroke="#2b2bd0" stroke-width="0.8" />
<line x1="414.5" y1="88.8" x2="401.6" y2="127.2" stroke="#2b2bd0" stroke-width="0.8" />
<text x="373.7" y="51.2" font-size="8.2" text-anchor="middle" font-weight="normal" fill="#1a1a1a" >P2</text>
<text x="419.7" y="84.2" font-size="8.2" text-anchor="middle" font-weight="normal" fill="#1a1a1a" >P1</text>
<rect x="272.4" y="30.4" width="181.4" height="132.9" fill="none" stroke="#1a1a1a" stroke-width="1.1"/>
<line x1="269.6" y1="151.2" x2="272.4" y2="151.2" stroke="#1a1a1a" stroke-width="0.9" />
<text x="268.1" y="154.15" font-size="8.2" text-anchor="end" font-weight="normal" fill="#1a1a1a" >0.00</text>
<line x1="269.6" y1="127.04" x2="272.4" y2="127.04" stroke="#1a1a1a" stroke-width="0.9" />
<text x="268.1" y="129.99" font-size="8.2" text-anchor="end" font-weight="normal" fill="#1a1a1a" >0.02</text>
<line x1="269.6" y1="102.88" x2="272.4" y2="102.88" stroke="#1a1a1a" stroke-width="0.9" />
<text x="268.1" y="105.83" font-size="8.2" text-anchor="end" font-weight="normal" fill="#1a1a1a" >0.04</text>
<line x1="269.6" y1="78.72" x2="272.4" y2="78.72" stroke="#1a1a1a" stroke-width="0.9" />
<text x="268.1" y="81.67" font-size="8.2" text-anchor="end" font-weight="normal" fill="#1a1a1a" >0.06</text>
<line x1="269.6" y1="54.56" x2="272.4" y2="54.56" stroke="#1a1a1a" stroke-width="0.9" />
<text x="268.1" y="57.51" font-size="8.2" text-anchor="end" font-weight="normal" fill="#1a1a1a" >0.08</text>
<line x1="269.6" y1="30.4" x2="272.4" y2="30.4" stroke="#1a1a1a" stroke-width="0.9" />
<text x="268.1" y="33.35" font-size="8.2" text-anchor="end" font-weight="normal" fill="#1a1a1a" >0.10</text>
<line x1="270.8" y1="163.28" x2="272.4" y2="163.28" stroke="#1a1a1a" stroke-width="0.9" />
<line x1="270.8" y1="139.12" x2="272.4" y2="139.12" stroke="#1a1a1a" stroke-width="0.9" />
<line x1="270.8" y1="114.96" x2="272.4" y2="114.96" stroke="#1a1a1a" stroke-width="0.9" />
<line x1="270.8" y1="90.8" x2="272.4" y2="90.8" stroke="#1a1a1a" stroke-width="0.9" />
<line x1="270.8" y1="66.64" x2="272.4" y2="66.64" stroke="#1a1a1a" stroke-width="0.9" />
<line x1="270.8" y1="42.48" x2="272.4" y2="42.48" stroke="#1a1a1a" stroke-width="0.9" />
<line x1="272.4" y1="163.3" x2="272.4" y2="166.1" stroke="#1a1a1a" stroke-width="0.9" />
<line x1="302.63" y1="163.3" x2="302.63" y2="166.1" stroke="#1a1a1a" stroke-width="0.9" />
<line x1="332.87" y1="163.3" x2="332.87" y2="166.1" stroke="#1a1a1a" stroke-width="0.9" />
<line x1="363.1" y1="163.3" x2="363.1" y2="166.1" stroke="#1a1a1a" stroke-width="0.9" />
<line x1="393.33" y1="163.3" x2="393.33" y2="166.1" stroke="#1a1a1a" stroke-width="0.9" />
<line x1="423.57" y1="163.3" x2="423.57" y2="166.1" stroke="#1a1a1a" stroke-width="0.9" />
<line x1="453.8" y1="163.3" x2="453.8" y2="166.1" stroke="#1a1a1a" stroke-width="0.9" />
<line x1="281.5" y1="163.3" x2="281.5" y2="164.9" stroke="#1a1a1a" stroke-width="0.9" />
<line x1="286.82" y1="163.3" x2="286.82" y2="164.9" stroke="#1a1a1a" stroke-width="0.9" />
<line x1="290.6" y1="163.3" x2="290.6" y2="164.9" stroke="#1a1a1a" stroke-width="0.9" />
<line x1="293.53" y1="163.3" x2="293.53" y2="164.9" stroke="#1a1a1a" stroke-width="0.9" />
<line x1="295.93" y1="163.3" x2="295.93" y2="164.9" stroke="#1a1a1a" stroke-width="0.9" />
<line x1="297.95" y1="163.3" x2="297.95" y2="164.9" stroke="#1a1a1a" stroke-width="0.9" />
<line x1="299.7" y1="163.3" x2="299.7" y2="164.9" stroke="#1a1a1a" stroke-width="0.9" />
<line x1="301.25" y1="163.3" x2="301.25" y2="164.9" stroke="#1a1a1a" stroke-width="0.9" />
<line x1="311.73" y1="163.3" x2="311.73" y2="164.9" stroke="#1a1a1a" stroke-width="0.9" />
<line x1="317.06" y1="163.3" x2="317.06" y2="164.9" stroke="#1a1a1a" stroke-width="0.9" />
<line x1="320.84" y1="163.3" x2="320.84" y2="164.9" stroke="#1a1a1a" stroke-width="0.9" />
<line x1="323.77" y1="163.3" x2="323.77" y2="164.9" stroke="#1a1a1a" stroke-width="0.9" />
<line x1="326.16" y1="163.3" x2="326.16" y2="164.9" stroke="#1a1a1a" stroke-width="0.9" />
<line x1="328.18" y1="163.3" x2="328.18" y2="164.9" stroke="#1a1a1a" stroke-width="0.9" />
<line x1="329.94" y1="163.3" x2="329.94" y2="164.9" stroke="#1a1a1a" stroke-width="0.9" />
<line x1="331.48" y1="163.3" x2="331.48" y2="164.9" stroke="#1a1a1a" stroke-width="0.9" />
<line x1="341.97" y1="163.3" x2="341.97" y2="164.9" stroke="#1a1a1a" stroke-width="0.9" />
<line x1="347.29" y1="163.3" x2="347.29" y2="164.9" stroke="#1a1a1a" stroke-width="0.9" />
<line x1="351.07" y1="163.3" x2="351.07" y2="164.9" stroke="#1a1a1a" stroke-width="0.9" />
<line x1="354" y1="163.3" x2="354" y2="164.9" stroke="#1a1a1a" stroke-width="0.9" />
<line x1="356.39" y1="163.3" x2="356.39" y2="164.9" stroke="#1a1a1a" stroke-width="0.9" />
<line x1="358.42" y1="163.3" x2="358.42" y2="164.9" stroke="#1a1a1a" stroke-width="0.9" />
<line x1="360.17" y1="163.3" x2="360.17" y2="164.9" stroke="#1a1a1a" stroke-width="0.9" />
<line x1="361.72" y1="163.3" x2="361.72" y2="164.9" stroke="#1a1a1a" stroke-width="0.9" />
<line x1="372.2" y1="163.3" x2="372.2" y2="164.9" stroke="#1a1a1a" stroke-width="0.9" />
<line x1="377.52" y1="163.3" x2="377.52" y2="164.9" stroke="#1a1a1a" stroke-width="0.9" />
<line x1="381.3" y1="163.3" x2="381.3" y2="164.9" stroke="#1a1a1a" stroke-width="0.9" />
<line x1="384.23" y1="163.3" x2="384.23" y2="164.9" stroke="#1a1a1a" stroke-width="0.9" />
<line x1="386.63" y1="163.3" x2="386.63" y2="164.9" stroke="#1a1a1a" stroke-width="0.9" />
<line x1="388.65" y1="163.3" x2="388.65" y2="164.9" stroke="#1a1a1a" stroke-width="0.9" />
<line x1="390.4" y1="163.3" x2="390.4" y2="164.9" stroke="#1a1a1a" stroke-width="0.9" />
<line x1="391.95" y1="163.3" x2="391.95" y2="164.9" stroke="#1a1a1a" stroke-width="0.9" />
<line x1="402.43" y1="163.3" x2="402.43" y2="164.9" stroke="#1a1a1a" stroke-width="0.9" />
<line x1="407.76" y1="163.3" x2="407.76" y2="164.9" stroke="#1a1a1a" stroke-width="0.9" />
<line x1="411.54" y1="163.3" x2="411.54" y2="164.9" stroke="#1a1a1a" stroke-width="0.9" />
<line x1="414.47" y1="163.3" x2="414.47" y2="164.9" stroke="#1a1a1a" stroke-width="0.9" />
<line x1="416.86" y1="163.3" x2="416.86" y2="164.9" stroke="#1a1a1a" stroke-width="0.9" />
<line x1="418.88" y1="163.3" x2="418.88" y2="164.9" stroke="#1a1a1a" stroke-width="0.9" />
<line x1="420.64" y1="163.3" x2="420.64" y2="164.9" stroke="#1a1a1a" stroke-width="0.9" />
<line x1="422.18" y1="163.3" x2="422.18" y2="164.9" stroke="#1a1a1a" stroke-width="0.9" />
<line x1="432.67" y1="163.3" x2="432.67" y2="164.9" stroke="#1a1a1a" stroke-width="0.9" />
<line x1="437.99" y1="163.3" x2="437.99" y2="164.9" stroke="#1a1a1a" stroke-width="0.9" />
<line x1="441.77" y1="163.3" x2="441.77" y2="164.9" stroke="#1a1a1a" stroke-width="0.9" />
<line x1="444.7" y1="163.3" x2="444.7" y2="164.9" stroke="#1a1a1a" stroke-width="0.9" />
<line x1="447.09" y1="163.3" x2="447.09" y2="164.9" stroke="#1a1a1a" stroke-width="0.9" />
<line x1="449.12" y1="163.3" x2="449.12" y2="164.9" stroke="#1a1a1a" stroke-width="0.9" />
<line x1="450.87" y1="163.3" x2="450.87" y2="164.9" stroke="#1a1a1a" stroke-width="0.9" />
<line x1="452.42" y1="163.3" x2="452.42" y2="164.9" stroke="#1a1a1a" stroke-width="0.9" />
<text x="271.9" y="176.2" font-size="8.2" text-anchor="middle" font-weight="normal" fill="#1a1a1a" >10<tspan dy="-3.44" font-size="5.58">-1</tspan></text>
<text x="302.13" y="176.2" font-size="8.2" text-anchor="middle" font-weight="normal" fill="#1a1a1a" >10<tspan dy="-3.44" font-size="5.58">0</tspan></text>
<text x="332.37" y="176.2" font-size="8.2" text-anchor="middle" font-weight="normal" fill="#1a1a1a" >10<tspan dy="-3.44" font-size="5.58">1</tspan></text>
<text x="362.6" y="176.2" font-size="8.2" text-anchor="middle" font-weight="normal" fill="#1a1a1a" >10<tspan dy="-3.44" font-size="5.58">2</tspan></text>
<text x="392.83" y="176.2" font-size="8.2" text-anchor="middle" font-weight="normal" fill="#1a1a1a" >10<tspan dy="-3.44" font-size="5.58">3</tspan></text>
<text x="423.07" y="176.2" font-size="8.2" text-anchor="middle" font-weight="normal" fill="#1a1a1a" >10<tspan dy="-3.44" font-size="5.58">4</tspan></text>
<text x="453.3" y="176.2" font-size="8.2" text-anchor="middle" font-weight="normal" fill="#1a1a1a" >10<tspan dy="-3.44" font-size="5.58">5</tspan></text>
<text x="363" y="184.5" font-size="8.2" text-anchor="middle" font-weight="normal" fill="#1a1a1a" >Ferquency (Hz)</text>
<text x="247" y="102.5" font-size="7.9" text-anchor="middle" font-weight="normal" fill="#1a1a1a" transform="rotate(-90 247.0 102.5)">DRT (Ω cm<tspan dy="-3.1" font-size="5.1">2</tspan><tspan dy="3.1"> s)</tspan></text>
<rect x="230" y="14" width="22" height="20" fill="#fff"/>
<text x="232" y="30.5" font-size="15" text-anchor="start" font-weight="bold" fill="#1a1a1a" >(b)</text>
<line x1="277.2" y1="37.4" x2="291.7" y2="37.4" stroke="#e0613c" stroke-width="1.0" />
<circle cx="284.5" cy="37.4" r="0.9" fill="#e0613c"/>
<line x1="277.2" y1="47.3" x2="291.7" y2="47.3" stroke="#4a6799" stroke-width="1.0" />
<circle cx="284.5" cy="47.3" r="0.9" fill="#4a6799"/>
<text x="294.2" y="40.3" font-size="8.2" text-anchor="start" font-weight="normal" fill="#1a1a1a" >PLNBSCC</text>
<text x="294.2" y="50.2" font-size="8.2" text-anchor="start" font-weight="normal" fill="#1a1a1a" >PBC</text>
<line x1="522.52" y1="104.85" x2="570.52" y2="67.61" stroke="#f0882a" stroke-width="1.05" stroke-dasharray="3,2"/>
<rect x="520.47" y="101.25" width="4.1" height="4.1" fill="#fbd2a8" stroke="#f0882a" stroke-width="0.8"/>
<rect x="520.47" y="101.25" width="2.05" height="4.1" fill="#f0882a"/>
<rect x="534.91" y="93.65" width="4.1" height="4.1" fill="#fbd2a8" stroke="#f0882a" stroke-width="0.8"/>
<rect x="534.91" y="93.65" width="2.05" height="4.1" fill="#f0882a"/>
<rect x="550.83" y="79.55" width="4.1" height="4.1" fill="#fbd2a8" stroke="#f0882a" stroke-width="0.8"/>
<rect x="550.83" y="79.55" width="2.05" height="4.1" fill="#f0882a"/>
<rect x="568.47" y="64.75" width="4.1" height="4.1" fill="#fbd2a8" stroke="#f0882a" stroke-width="0.8"/>
<rect x="568.47" y="64.75" width="2.05" height="4.1" fill="#f0882a"/>
<line x1="552.88" y1="95.07" x2="637.14" y2="36.7" stroke="#a35be0" stroke-width="1.05" stroke-dasharray="3,2"/>
<circle cx="552.88" cy="96.5" r="2.05" fill="#d8b8f4" stroke="#a35be0" stroke-width="0.8"/>
<line x1="550.83" y1="96.5" x2="554.93" y2="96.5" stroke="#a35be0" stroke-width="0.5" />
<line x1="552.88" y1="94.45" x2="552.88" y2="98.55" stroke="#a35be0" stroke-width="0.5" />
<circle cx="570.52" cy="82.3" r="2.05" fill="#d8b8f4" stroke="#a35be0" stroke-width="0.8"/>
<line x1="568.47" y1="82.3" x2="572.57" y2="82.3" stroke="#a35be0" stroke-width="0.5" />
<line x1="570.52" y1="80.25" x2="570.52" y2="84.35" stroke="#a35be0" stroke-width="0.5" />
<circle cx="590.18" cy="68.1" r="2.05" fill="#d8b8f4" stroke="#a35be0" stroke-width="0.8"/>
<line x1="588.13" y1="68.1" x2="592.23" y2="68.1" stroke="#a35be0" stroke-width="0.5" />
<line x1="590.18" y1="66.05" x2="590.18" y2="70.15" stroke="#a35be0" stroke-width="0.5" />
<circle cx="612.24" cy="52.7" r="2.05" fill="#d8b8f4" stroke="#a35be0" stroke-width="0.8"/>
<line x1="610.19" y1="52.7" x2="614.29" y2="52.7" stroke="#a35be0" stroke-width="0.5" />
<line x1="612.24" y1="50.65" x2="612.24" y2="54.75" stroke="#a35be0" stroke-width="0.5" />
<circle cx="637.14" cy="38.2" r="2.05" fill="#d8b8f4" stroke="#a35be0" stroke-width="0.8"/>
<line x1="635.09" y1="38.2" x2="639.19" y2="38.2" stroke="#a35be0" stroke-width="0.5" />
<line x1="637.14" y1="36.15" x2="637.14" y2="40.25" stroke="#a35be0" stroke-width="0.5" />
<line x1="509.37" y1="142.27" x2="570.52" y2="101.75" stroke="#1f2a9a" stroke-width="1.05" stroke-dasharray="3,2"/>
<polygon points="509.37,139.84 507.12,143.94 511.63,143.94" fill="#1f2a9a" stroke="#1f2a9a" stroke-width="0.6"/>
<polygon points="522.52,130.94 520.27,135.04 524.78,135.04" fill="#1f2a9a" stroke="#1f2a9a" stroke-width="0.6"/>
<polygon points="536.96,122.25 534.7,126.34 539.21,126.34" fill="#1f2a9a" stroke="#1f2a9a" stroke-width="0.6"/>
<polygon points="552.88,111.75 550.62,115.84 555.13,115.84" fill="#1f2a9a" stroke="#1f2a9a" stroke-width="0.6"/>
<polygon points="570.52,98.95 568.26,103.05 572.77,103.05" fill="#1f2a9a" stroke="#1f2a9a" stroke-width="0.6"/>
<line x1="536.96" y1="150.34" x2="637.14" y2="62.55" stroke="#3fe0ea" stroke-width="1.05" stroke-dasharray="3,2"/>
<line x1="534.5" y1="148.54" x2="539.42" y2="153.46" stroke="#3fe0ea" stroke-width="0.9" />
<line x1="534.5" y1="153.46" x2="539.42" y2="148.54" stroke="#3fe0ea" stroke-width="0.9" />
<line x1="536.96" y1="148.54" x2="536.96" y2="153.46" stroke="#3fe0ea" stroke-width="0.9" />
<line x1="550.42" y1="132.04" x2="555.34" y2="136.96" stroke="#3fe0ea" stroke-width="0.9" />
<line x1="550.42" y1="136.96" x2="555.34" y2="132.04" stroke="#3fe0ea" stroke-width="0.9" />
<line x1="552.88" y1="132.04" x2="552.88" y2="136.96" stroke="#3fe0ea" stroke-width="0.9" />
<line x1="568.06" y1="119.14" x2="572.98" y2="124.06" stroke="#3fe0ea" stroke-width="0.9" />
<line x1="568.06" y1="124.06" x2="572.98" y2="119.14" stroke="#3fe0ea" stroke-width="0.9" />
<line x1="570.52" y1="119.14" x2="570.52" y2="124.06" stroke="#3fe0ea" stroke-width="0.9" />
<line x1="587.72" y1="102.54" x2="592.64" y2="107.46" stroke="#3fe0ea" stroke-width="0.9" />
<line x1="587.72" y1="107.46" x2="592.64" y2="102.54" stroke="#3fe0ea" stroke-width="0.9" />
<line x1="590.18" y1="102.54" x2="590.18" y2="107.46" stroke="#3fe0ea" stroke-width="0.9" />
<line x1="609.78" y1="81.44" x2="614.7" y2="86.36" stroke="#3fe0ea" stroke-width="0.9" />
<line x1="609.78" y1="86.36" x2="614.7" y2="81.44" stroke="#3fe0ea" stroke-width="0.9" />
<line x1="612.24" y1="81.44" x2="612.24" y2="86.36" stroke="#3fe0ea" stroke-width="0.9" />
<line x1="634.68" y1="59.84" x2="639.6" y2="64.76" stroke="#3fe0ea" stroke-width="0.9" />
<line x1="634.68" y1="64.76" x2="639.6" y2="59.84" stroke="#3fe0ea" stroke-width="0.9" />
<line x1="637.14" y1="59.84" x2="637.14" y2="64.76" stroke="#3fe0ea" stroke-width="0.9" />
<line x1="552.88" y1="132.95" x2="665.49" y2="59.96" stroke="#55d455" stroke-width="1.05" stroke-dasharray="3,2"/>
<polygon points="552.88,130.24 555.34,132.7 552.88,135.16 550.42,132.7" fill="#b9f0b0" stroke="#55d455" stroke-width="0.8"/>
<line x1="550.83" y1="132.7" x2="554.93" y2="132.7" stroke="#55d455" stroke-width="0.5" />
<line x1="552.88" y1="130.65" x2="552.88" y2="134.75" stroke="#55d455" stroke-width="0.5" />
<polygon points="570.52,120.94 572.98,123.4 570.52,125.86 568.06,123.4" fill="#b9f0b0" stroke="#55d455" stroke-width="0.8"/>
<line x1="568.47" y1="123.4" x2="572.57" y2="123.4" stroke="#55d455" stroke-width="0.5" />
<line x1="570.52" y1="121.35" x2="570.52" y2="125.45" stroke="#55d455" stroke-width="0.5" />
<polygon points="590.18,105.04 592.64,107.5 590.18,109.96 587.72,107.5" fill="#b9f0b0" stroke="#55d455" stroke-width="0.8"/>
<line x1="588.13" y1="107.5" x2="592.23" y2="107.5" stroke="#55d455" stroke-width="0.5" />
<line x1="590.18" y1="105.45" x2="590.18" y2="109.55" stroke="#55d455" stroke-width="0.5" />
<polygon points="612.24,90.94 614.7,93.4 612.24,95.86 609.78,93.4" fill="#b9f0b0" stroke="#55d455" stroke-width="0.8"/>
<line x1="610.19" y1="93.4" x2="614.29" y2="93.4" stroke="#55d455" stroke-width="0.5" />
<line x1="612.24" y1="91.35" x2="612.24" y2="95.45" stroke="#55d455" stroke-width="0.5" />
<polygon points="637.14,75.94 639.6,78.4 637.14,80.86 634.68,78.4" fill="#b9f0b0" stroke="#55d455" stroke-width="0.8"/>
<line x1="635.09" y1="78.4" x2="639.19" y2="78.4" stroke="#55d455" stroke-width="0.5" />
<line x1="637.14" y1="76.35" x2="637.14" y2="80.45" stroke="#55d455" stroke-width="0.5" />
<polygon points="665.49,58.14 667.95,60.6 665.49,63.06 663.03,60.6" fill="#b9f0b0" stroke="#55d455" stroke-width="0.8"/>
<line x1="663.44" y1="60.6" x2="667.54" y2="60.6" stroke="#55d455" stroke-width="0.5" />
<line x1="665.49" y1="58.55" x2="665.49" y2="62.65" stroke="#55d455" stroke-width="0.5" />
<line x1="536.96" y1="151.21" x2="637.14" y2="88.99" stroke="#a86a6a" stroke-width="1.05" stroke-dasharray="3,2"/>
<polygon points="534.7,154.5 538.8,152.25 538.8,156.75" fill="#f0dcdc" stroke="#a86a6a" stroke-width="0.8"/>
<polygon points="550.62,138 554.72,135.75 554.72,140.25" fill="#f0dcdc" stroke="#a86a6a" stroke-width="0.8"/>
<polygon points="568.26,128.5 572.36,126.25 572.36,130.75" fill="#f0dcdc" stroke="#a86a6a" stroke-width="0.8"/>
<polygon points="587.93,120 592.03,117.75 592.03,122.25" fill="#f0dcdc" stroke="#a86a6a" stroke-width="0.8"/>
<polygon points="609.98,104 614.08,101.75 614.08,106.25" fill="#f0dcdc" stroke="#a86a6a" stroke-width="0.8"/>
<polygon points="634.89,89.5 638.99,87.25 638.99,91.75" fill="#f0dcdc" stroke="#a86a6a" stroke-width="0.8"/>
<line x1="552.88" y1="116.28" x2="637.14" y2="61.54" stroke="#9a8a2c" stroke-width="1.05" stroke-dasharray="3,2"/>
<polygon points="555.13,116.4 551.03,114.15 551.03,118.66" fill="#9a8a2c" stroke="#9a8a2c" stroke-width="0.6"/>
<polygon points="572.77,104 568.67,101.75 568.67,106.25" fill="#9a8a2c" stroke="#9a8a2c" stroke-width="0.6"/>
<polygon points="592.44,93 588.34,90.75 588.34,95.25" fill="#9a8a2c" stroke="#9a8a2c" stroke-width="0.6"/>
<polygon points="614.49,77.7 610.39,75.45 610.39,79.95" fill="#9a8a2c" stroke="#9a8a2c" stroke-width="0.6"/>
<polygon points="639.4,61.3 635.3,59.04 635.3,63.55" fill="#9a8a2c" stroke="#9a8a2c" stroke-width="0.6"/>
<line x1="552.88" y1="144.36" x2="637.14" y2="94.79" stroke="#6e4444" stroke-width="1.05" />
<circle cx="552.88" cy="142.5" r="2.36" fill="#6e4444"/>
<circle cx="570.52" cy="134.9" r="2.36" fill="#6e4444"/>
<circle cx="590.18" cy="123.9" r="2.36" fill="#6e4444"/>
<circle cx="612.24" cy="110.5" r="2.36" fill="#6e4444"/>
<circle cx="637.14" cy="93.2" r="2.36" fill="#6e4444"/>
<line x1="552.88" y1="151.68" x2="637.14" y2="103.1" stroke="#e52222" stroke-width="1.05" />
<circle cx="552.88" cy="151.3" r="2.36" fill="#e52222"/>
<circle cx="570.52" cy="141.8" r="2.36" fill="#e52222"/>
<circle cx="590.18" cy="130.4" r="2.36" fill="#e52222"/>
<circle cx="612.24" cy="117.5" r="2.36" fill="#e52222"/>
<circle cx="637.14" cy="102.9" r="2.36" fill="#e52222"/>
<rect x="503.1" y="29.8" width="177.9" height="133.5" fill="none" stroke="#1a1a1a" stroke-width="1.1"/>
<line x1="500.3" y1="153.14" x2="503.1" y2="153.14" stroke="#1a1a1a" stroke-width="0.9" />
<text x="498.8" y="156.09" font-size="8.2" text-anchor="end" font-weight="normal" fill="#1a1a1a" >0.01</text>
<line x1="500.3" y1="119.77" x2="503.1" y2="119.77" stroke="#1a1a1a" stroke-width="0.9" />
<text x="498.8" y="122.72" font-size="8.2" text-anchor="end" font-weight="normal" fill="#1a1a1a" >0.1</text>
<line x1="500.3" y1="86.4" x2="503.1" y2="86.4" stroke="#1a1a1a" stroke-width="0.9" />
<text x="498.8" y="89.35" font-size="8.2" text-anchor="end" font-weight="normal" fill="#1a1a1a" >1</text>
<line x1="500.3" y1="53.03" x2="503.1" y2="53.03" stroke="#1a1a1a" stroke-width="0.9" />
<text x="498.8" y="55.98" font-size="8.2" text-anchor="end" font-weight="normal" fill="#1a1a1a" >10</text>
<line x1="501.5" y1="163.19" x2="503.1" y2="163.19" stroke="#1a1a1a" stroke-width="0.9" />
<line x1="501.5" y1="160.54" x2="503.1" y2="160.54" stroke="#1a1a1a" stroke-width="0.9" />
<line x1="501.5" y1="158.31" x2="503.1" y2="158.31" stroke="#1a1a1a" stroke-width="0.9" />
<line x1="501.5" y1="156.37" x2="503.1" y2="156.37" stroke="#1a1a1a" stroke-width="0.9" />
<line x1="501.5" y1="154.67" x2="503.1" y2="154.67" stroke="#1a1a1a" stroke-width="0.9" />
<line x1="501.5" y1="143.09" x2="503.1" y2="143.09" stroke="#1a1a1a" stroke-width="0.9" />
<line x1="501.5" y1="137.22" x2="503.1" y2="137.22" stroke="#1a1a1a" stroke-width="0.9" />
<line x1="501.5" y1="133.05" x2="503.1" y2="133.05" stroke="#1a1a1a" stroke-width="0.9" />
<line x1="501.5" y1="129.82" x2="503.1" y2="129.82" stroke="#1a1a1a" stroke-width="0.9" />
<line x1="501.5" y1="127.17" x2="503.1" y2="127.17" stroke="#1a1a1a" stroke-width="0.9" />
<line x1="501.5" y1="124.94" x2="503.1" y2="124.94" stroke="#1a1a1a" stroke-width="0.9" />
<line x1="501.5" y1="123" x2="503.1" y2="123" stroke="#1a1a1a" stroke-width="0.9" />
<line x1="501.5" y1="121.3" x2="503.1" y2="121.3" stroke="#1a1a1a" stroke-width="0.9" />
<line x1="501.5" y1="109.72" x2="503.1" y2="109.72" stroke="#1a1a1a" stroke-width="0.9" />
<line x1="501.5" y1="103.85" x2="503.1" y2="103.85" stroke="#1a1a1a" stroke-width="0.9" />
<line x1="501.5" y1="99.68" x2="503.1" y2="99.68" stroke="#1a1a1a" stroke-width="0.9" />
<line x1="501.5" y1="96.45" x2="503.1" y2="96.45" stroke="#1a1a1a" stroke-width="0.9" />
<line x1="501.5" y1="93.8" x2="503.1" y2="93.8" stroke="#1a1a1a" stroke-width="0.9" />
<line x1="501.5" y1="91.57" x2="503.1" y2="91.57" stroke="#1a1a1a" stroke-width="0.9" />
<line x1="501.5" y1="89.63" x2="503.1" y2="89.63" stroke="#1a1a1a" stroke-width="0.9" />
<line x1="501.5" y1="87.93" x2="503.1" y2="87.93" stroke="#1a1a1a" stroke-width="0.9" />
<line x1="501.5" y1="76.35" x2="503.1" y2="76.35" stroke="#1a1a1a" stroke-width="0.9" />
<line x1="501.5" y1="70.48" x2="503.1" y2="70.48" stroke="#1a1a1a" stroke-width="0.9" />
<line x1="501.5" y1="66.31" x2="503.1" y2="66.31" stroke="#1a1a1a" stroke-width="0.9" />
<line x1="501.5" y1="63.08" x2="503.1" y2="63.08" stroke="#1a1a1a" stroke-width="0.9" />
<line x1="501.5" y1="60.43" x2="503.1" y2="60.43" stroke="#1a1a1a" stroke-width="0.9" />
<line x1="501.5" y1="58.2" x2="503.1" y2="58.2" stroke="#1a1a1a" stroke-width="0.9" />
<line x1="501.5" y1="56.26" x2="503.1" y2="56.26" stroke="#1a1a1a" stroke-width="0.9" />
<line x1="501.5" y1="54.56" x2="503.1" y2="54.56" stroke="#1a1a1a" stroke-width="0.9" />
<line x1="501.5" y1="42.98" x2="503.1" y2="42.98" stroke="#1a1a1a" stroke-width="0.9" />
<line x1="501.5" y1="37.11" x2="503.1" y2="37.11" stroke="#1a1a1a" stroke-width="0.9" />
<line x1="501.5" y1="32.94" x2="503.1" y2="32.94" stroke="#1a1a1a" stroke-width="0.9" />
<line x1="515.6" y1="163.3" x2="515.6" y2="166.1" stroke="#1a1a1a" stroke-width="0.9" />
<text x="515.6" y="174.7" font-size="8.2" text-anchor="middle" font-weight="normal" fill="#1a1a1a" >0.91</text>
<line x1="537.79" y1="163.3" x2="537.79" y2="166.1" stroke="#1a1a1a" stroke-width="0.9" />
<text x="537.79" y="174.7" font-size="8.2" text-anchor="middle" font-weight="normal" fill="#1a1a1a" >0.98</text>
<line x1="559.98" y1="163.3" x2="559.98" y2="166.1" stroke="#1a1a1a" stroke-width="0.9" />
<text x="559.98" y="174.7" font-size="8.2" text-anchor="middle" font-weight="normal" fill="#1a1a1a" >1.05</text>
<line x1="582.17" y1="163.3" x2="582.17" y2="166.1" stroke="#1a1a1a" stroke-width="0.9" />
<text x="582.17" y="174.7" font-size="8.2" text-anchor="middle" font-weight="normal" fill="#1a1a1a" >1.12</text>
<line x1="604.36" y1="163.3" x2="604.36" y2="166.1" stroke="#1a1a1a" stroke-width="0.9" />
<text x="604.36" y="174.7" font-size="8.2" text-anchor="middle" font-weight="normal" fill="#1a1a1a" >1.19</text>
<line x1="626.55" y1="163.3" x2="626.55" y2="166.1" stroke="#1a1a1a" stroke-width="0.9" />
<text x="626.55" y="174.7" font-size="8.2" text-anchor="middle" font-weight="normal" fill="#1a1a1a" >1.26</text>
<line x1="648.74" y1="163.3" x2="648.74" y2="166.1" stroke="#1a1a1a" stroke-width="0.9" />
<text x="648.74" y="174.7" font-size="8.2" text-anchor="middle" font-weight="normal" fill="#1a1a1a" >1.33</text>
<line x1="670.93" y1="163.3" x2="670.93" y2="166.1" stroke="#1a1a1a" stroke-width="0.9" />
<text x="670.93" y="174.7" font-size="8.2" text-anchor="middle" font-weight="normal" fill="#1a1a1a" >1.40</text>
<line x1="526.7" y1="163.3" x2="526.7" y2="164.9" stroke="#1a1a1a" stroke-width="0.9" />
<line x1="548.88" y1="163.3" x2="548.88" y2="164.9" stroke="#1a1a1a" stroke-width="0.9" />
<line x1="571.08" y1="163.3" x2="571.08" y2="164.9" stroke="#1a1a1a" stroke-width="0.9" />
<line x1="593.26" y1="163.3" x2="593.26" y2="164.9" stroke="#1a1a1a" stroke-width="0.9" />
<line x1="615.45" y1="163.3" x2="615.45" y2="164.9" stroke="#1a1a1a" stroke-width="0.9" />
<line x1="637.64" y1="163.3" x2="637.64" y2="164.9" stroke="#1a1a1a" stroke-width="0.9" />
<line x1="659.84" y1="163.3" x2="659.84" y2="164.9" stroke="#1a1a1a" stroke-width="0.9" />
<line x1="504.5" y1="163.3" x2="504.5" y2="164.9" stroke="#1a1a1a" stroke-width="0.9" />
<line x1="509.37" y1="27.2" x2="509.37" y2="29.8" stroke="#1a1a1a" stroke-width="0.9" />
<line x1="522.52" y1="27.2" x2="522.52" y2="29.8" stroke="#1a1a1a" stroke-width="0.9" />
<line x1="536.96" y1="27.2" x2="536.96" y2="29.8" stroke="#1a1a1a" stroke-width="0.9" />
<line x1="552.88" y1="27.2" x2="552.88" y2="29.8" stroke="#1a1a1a" stroke-width="0.9" />
<line x1="570.52" y1="27.2" x2="570.52" y2="29.8" stroke="#1a1a1a" stroke-width="0.9" />
<line x1="590.18" y1="27.2" x2="590.18" y2="29.8" stroke="#1a1a1a" stroke-width="0.9" />
<line x1="612.24" y1="27.2" x2="612.24" y2="29.8" stroke="#1a1a1a" stroke-width="0.9" />
<line x1="637.14" y1="27.2" x2="637.14" y2="29.8" stroke="#1a1a1a" stroke-width="0.9" />
<line x1="665.49" y1="27.2" x2="665.49" y2="29.8" stroke="#1a1a1a" stroke-width="0.9" />
<text x="509.5" y="23.4" font-size="8.2" text-anchor="middle" font-weight="normal" fill="#1a1a1a" >850</text>
<text x="522.8" y="23.4" font-size="8.2" text-anchor="middle" font-weight="normal" fill="#1a1a1a" >800</text>
<text x="537.8" y="23.4" font-size="8.2" text-anchor="middle" font-weight="normal" fill="#1a1a1a" >750</text>
<text x="553.7" y="23.4" font-size="8.2" text-anchor="middle" font-weight="normal" fill="#1a1a1a" >700</text>
<text x="571.4" y="23.4" font-size="8.2" text-anchor="middle" font-weight="normal" fill="#1a1a1a" >650</text>
<text x="590.5" y="23.4" font-size="8.2" text-anchor="middle" font-weight="normal" fill="#1a1a1a" >600</text>
<text x="612.5" y="23.4" font-size="8.2" text-anchor="middle" font-weight="normal" fill="#1a1a1a" >550</text>
<text x="637.2" y="23.4" font-size="8.2" text-anchor="middle" font-weight="normal" fill="#1a1a1a" >500</text>
<text x="665.2" y="23.4" font-size="8.2" text-anchor="middle" font-weight="normal" fill="#1a1a1a" >450</text>
<text x="594.5" y="11.8" font-size="8.2" text-anchor="middle" font-weight="normal" fill="#1a1a1a" >Temperature (<tspan font-size="5.5" dy="-2.6">o</tspan><tspan dy="2.6">C)</tspan></text>
<text x="485.8" y="95.7" font-size="8.2" text-anchor="middle" font-weight="normal" fill="#1a1a1a" transform="rotate(-90 485.8 95.7)">ASR (Ω cm<tspan dy="-3.1" font-size="5.1">2</tspan><tspan dy="3.1">)</tspan></text>
<text x="592" y="184.3" font-size="8.2" text-anchor="middle" font-weight="normal" fill="#1a1a1a" >1000/T (K<tspan dy="-3.1" font-size="5.1">-1</tspan><tspan dy="3.1">)</tspan></text>
<rect x="465" y="14" width="22" height="21" fill="#fff"/>
<text x="467" y="31.5" font-size="14.5" text-anchor="start" font-weight="bold" fill="#1a1a1a" >(c)</text>
<rect x="507.6" y="32.6" width="3.6" height="3.6" fill="#fbd2a8" stroke="#f0882a" stroke-width="0.8"/>
<rect x="507.6" y="32.6" width="1.8" height="3.6" fill="#f0882a"/>
<text x="518" y="36.85" font-size="6.9" text-anchor="start" font-weight="normal" fill="#1a1a1a" >LPNSBSCFNC</text>
<text x="565.3" y="36.85" font-size="7.0" text-anchor="start" font-weight="normal" fill="#1a1a1a" >Ea=1.47 eV</text>
<circle cx="509.4" cy="43" r="1.8" fill="#d8b8f4" stroke="#a35be0" stroke-width="0.8"/>
<line x1="507.6" y1="43" x2="511.2" y2="43" stroke="#a35be0" stroke-width="0.5" />
<line x1="509.4" y1="41.2" x2="509.4" y2="44.8" stroke="#a35be0" stroke-width="0.5" />
<text x="518" y="45.45" font-size="6.9" text-anchor="start" font-weight="normal" fill="#1a1a1a" >LPNSGC</text>
<text x="565.3" y="45.45" font-size="7.0" text-anchor="start" font-weight="normal" fill="#1a1a1a" >Ea=1.28 eV</text>
<polygon points="509.4,49.62 507.42,53.22 511.38,53.22" fill="#1f2a9a" stroke="#1f2a9a" stroke-width="0.6"/>
<text x="518" y="54.05" font-size="6.9" text-anchor="start" font-weight="normal" fill="#1a1a1a" >SFTCM</text>
<text x="565.3" y="54.05" font-size="7.0" text-anchor="start" font-weight="normal" fill="#1a1a1a" >Ea=1.27 eV</text>
<line x1="507.24" y1="58.04" x2="511.56" y2="62.36" stroke="#3fe0ea" stroke-width="0.9" />
<line x1="507.24" y1="62.36" x2="511.56" y2="58.04" stroke="#3fe0ea" stroke-width="0.9" />
<line x1="509.4" y1="58.04" x2="509.4" y2="62.36" stroke="#3fe0ea" stroke-width="0.9" />
<text x="518" y="62.65" font-size="6.9" text-anchor="start" font-weight="normal" fill="#1a1a1a" >BCFZY0.925</text>
<text x="565.3" y="62.65" font-size="7.0" text-anchor="start" font-weight="normal" fill="#1a1a1a" >Ea=1.68 eV</text>
<polygon points="596.6,122.74 598.76,124.9 596.6,127.06 594.44,124.9" fill="#b9f0b0" stroke="#55d455" stroke-width="0.8"/>
<line x1="594.8" y1="124.9" x2="598.4" y2="124.9" stroke="#55d455" stroke-width="0.5" />
<line x1="596.6" y1="123.1" x2="596.6" y2="126.7" stroke="#55d455" stroke-width="0.5" />
<text x="605" y="127.35" font-size="6.8" text-anchor="start" font-weight="normal" fill="#1a1a1a" >BBSC</text>
<text x="678.9" y="127.35" font-size="6.8" text-anchor="end" font-weight="normal" fill="#1a1a1a" >Ea=1.30 eV</text>
<polygon points="594.62,133.25 598.22,131.27 598.22,135.23" fill="#f0dcdc" stroke="#a86a6a" stroke-width="0.8"/>
<text x="605" y="135.7" font-size="6.8" text-anchor="start" font-weight="normal" fill="#1a1a1a" >PBSC</text>
<text x="678.9" y="135.7" font-size="6.8" text-anchor="end" font-weight="normal" fill="#1a1a1a" >Ea=1.19 eV</text>
<polygon points="598.58,141.6 594.98,139.62 594.98,143.58" fill="#9a8a2c" stroke="#9a8a2c" stroke-width="0.6"/>
<text x="605" y="144.05" font-size="6.8" text-anchor="start" font-weight="normal" fill="#1a1a1a" >PBC-GDC</text>
<text x="678.9" y="144.05" font-size="6.8" text-anchor="end" font-weight="normal" fill="#1a1a1a" >Ea=1.24 eV</text>
<circle cx="596.6" cy="149.95" r="2.07" fill="#6e4444"/>
<text x="605" y="152.4" font-size="6.8" text-anchor="start" font-weight="normal" fill="#1a1a1a" >PBC</text>
<text x="678.9" y="152.4" font-size="6.8" text-anchor="end" font-weight="normal" fill="#1a1a1a" >Ea=1.16 eV</text>
<circle cx="596.6" cy="158.3" r="2.07" fill="#e52222"/>
<text x="605" y="160.75" font-size="6.8" text-anchor="start" font-weight="normal" fill="#1a1a1a" >PLNBSCC</text>
<text x="678.9" y="160.75" font-size="6.8" text-anchor="end" font-weight="normal" fill="#1a1a1a" >Ea=1.10 eV</text>
<circle cx="45.8" cy="342" r="1.3" fill="#e3653f"/>
<circle cx="46.93" cy="341.59" r="1.3" fill="#e3653f"/>
<circle cx="48.07" cy="341.22" r="1.3" fill="#e3653f"/>
<circle cx="49.24" cy="340.96" r="1.3" fill="#e3653f"/>
<circle cx="50.43" cy="340.84" r="1.3" fill="#e3653f"/>
<circle cx="51.63" cy="340.79" r="1.3" fill="#e3653f"/>
<circle cx="52.83" cy="340.79" r="1.3" fill="#e3653f"/>
<circle cx="54.03" cy="340.88" r="1.3" fill="#e3653f"/>
<circle cx="55.22" cy="341.05" r="1.3" fill="#e3653f"/>
<circle cx="56.39" cy="341.28" r="1.3" fill="#e3653f"/>
<circle cx="57.54" cy="341.61" r="1.3" fill="#e3653f"/>
<circle cx="58.5" cy="342" r="1.3" fill="#e3653f"/>
<circle cx="45.8" cy="342" r="1.3" fill="#d6a43c"/>
<circle cx="46.93" cy="341.59" r="1.3" fill="#d6a43c"/>
<circle cx="48.09" cy="341.29" r="1.3" fill="#d6a43c"/>
<circle cx="49.28" cy="341.16" r="1.3" fill="#d6a43c"/>
<circle cx="50.48" cy="341.2" r="1.3" fill="#d6a43c"/>
<circle cx="51" cy="342" r="1.3" fill="#d6a43c"/>
<circle cx="45.8" cy="342" r="1.45" fill="#7a3e4c"/>
<circle cx="46.78" cy="341.31" r="1.45" fill="#7a3e4c"/>
<circle cx="47.78" cy="340.65" r="1.45" fill="#7a3e4c"/>
<circle cx="48.84" cy="340.08" r="1.45" fill="#7a3e4c"/>
<circle cx="49.95" cy="339.62" r="1.45" fill="#7a3e4c"/>
<circle cx="51.08" cy="339.23" r="1.45" fill="#7a3e4c"/>
<circle cx="52.23" cy="338.88" r="1.45" fill="#7a3e4c"/>
<circle cx="53.38" cy="338.54" r="1.45" fill="#7a3e4c"/>
<circle cx="54.54" cy="338.22" r="1.45" fill="#7a3e4c"/>
<circle cx="55.7" cy="337.92" r="1.45" fill="#7a3e4c"/>
<circle cx="56.87" cy="337.67" r="1.45" fill="#7a3e4c"/>
<circle cx="58.06" cy="337.49" r="1.45" fill="#7a3e4c"/>
<circle cx="59.26" cy="337.42" r="1.45" fill="#7a3e4c"/>
<circle cx="60.45" cy="337.48" r="1.45" fill="#7a3e4c"/>
<circle cx="61.64" cy="337.63" r="1.45" fill="#7a3e4c"/>
<circle cx="62.83" cy="337.83" r="1.45" fill="#7a3e4c"/>
<circle cx="64.01" cy="338.05" r="1.45" fill="#7a3e4c"/>
<circle cx="65.18" cy="338.29" r="1.45" fill="#7a3e4c"/>
<circle cx="66.35" cy="338.57" r="1.45" fill="#7a3e4c"/>
<circle cx="67.5" cy="338.93" r="1.45" fill="#7a3e4c"/>
<circle cx="68.59" cy="339.41" r="1.45" fill="#7a3e4c"/>
<circle cx="69.59" cy="340.07" r="1.45" fill="#7a3e4c"/>
<circle cx="70.43" cy="340.93" r="1.45" fill="#7a3e4c"/>
<circle cx="71.1" cy="341.8" r="1.45" fill="#7a3e4c"/>
<circle cx="45.8" cy="342" r="1.55" fill="#4d6ca3"/>
<circle cx="47.16" cy="341.16" r="1.55" fill="#4d6ca3"/>
<circle cx="48.53" cy="340.33" r="1.55" fill="#4d6ca3"/>
<circle cx="49.92" cy="339.54" r="1.55" fill="#4d6ca3"/>
<circle cx="51.35" cy="338.83" r="1.55" fill="#4d6ca3"/>
<circle cx="52.8" cy="338.15" r="1.55" fill="#4d6ca3"/>
<circle cx="54.25" cy="337.47" r="1.55" fill="#4d6ca3"/>
<circle cx="55.69" cy="336.76" r="1.55" fill="#4d6ca3"/>
<circle cx="57.09" cy="336" r="1.55" fill="#4d6ca3"/>
<circle cx="58.47" cy="335.18" r="1.55" fill="#4d6ca3"/>
<circle cx="59.84" cy="334.36" r="1.55" fill="#4d6ca3"/>
<circle cx="61.24" cy="333.58" r="1.55" fill="#4d6ca3"/>
<circle cx="62.68" cy="332.88" r="1.55" fill="#4d6ca3"/>
<circle cx="64.14" cy="332.22" r="1.55" fill="#4d6ca3"/>
<circle cx="65.62" cy="331.62" r="1.55" fill="#4d6ca3"/>
<circle cx="67.13" cy="331.09" r="1.55" fill="#4d6ca3"/>
<circle cx="68.67" cy="330.66" r="1.55" fill="#4d6ca3"/>
<circle cx="70.24" cy="330.35" r="1.55" fill="#4d6ca3"/>
<circle cx="71.82" cy="330.13" r="1.55" fill="#4d6ca3"/>
<circle cx="73.41" cy="329.97" r="1.55" fill="#4d6ca3"/>
<circle cx="75.01" cy="329.83" r="1.55" fill="#4d6ca3"/>
<circle cx="76.6" cy="329.74" r="1.55" fill="#4d6ca3"/>
<circle cx="78.2" cy="329.69" r="1.55" fill="#4d6ca3"/>
<circle cx="79.8" cy="329.69" r="1.55" fill="#4d6ca3"/>
<circle cx="81.4" cy="329.74" r="1.55" fill="#4d6ca3"/>
<circle cx="83" cy="329.83" r="1.55" fill="#4d6ca3"/>
<circle cx="84.59" cy="329.98" r="1.55" fill="#4d6ca3"/>
<circle cx="86.18" cy="330.2" r="1.55" fill="#4d6ca3"/>
<circle cx="87.76" cy="330.45" r="1.55" fill="#4d6ca3"/>
<circle cx="89.33" cy="330.74" r="1.55" fill="#4d6ca3"/>
<circle cx="90.88" cy="331.12" r="1.55" fill="#4d6ca3"/>
<circle cx="92.4" cy="331.64" r="1.55" fill="#4d6ca3"/>
<circle cx="93.85" cy="332.31" r="1.55" fill="#4d6ca3"/>
<circle cx="95.25" cy="333.08" r="1.55" fill="#4d6ca3"/>
<circle cx="96.62" cy="333.91" r="1.55" fill="#4d6ca3"/>
<circle cx="97.96" cy="334.78" r="1.55" fill="#4d6ca3"/>
<circle cx="99.28" cy="335.69" r="1.55" fill="#4d6ca3"/>
<circle cx="100.54" cy="336.67" r="1.55" fill="#4d6ca3"/>
<circle cx="101.77" cy="337.69" r="1.55" fill="#4d6ca3"/>
<circle cx="103" cy="338.72" r="1.55" fill="#4d6ca3"/>
<circle cx="45.8" cy="342" r="1.6" fill="#18204a"/>
<circle cx="47.11" cy="341.08" r="1.6" fill="#18204a"/>
<circle cx="48.43" cy="340.17" r="1.6" fill="#18204a"/>
<circle cx="49.78" cy="339.32" r="1.6" fill="#18204a"/>
<circle cx="51.2" cy="338.57" r="1.6" fill="#18204a"/>
<circle cx="52.64" cy="337.89" r="1.6" fill="#18204a"/>
<circle cx="54.09" cy="337.21" r="1.6" fill="#18204a"/>
<circle cx="55.53" cy="336.5" r="1.6" fill="#18204a"/>
<circle cx="56.93" cy="335.74" r="1.6" fill="#18204a"/>
<circle cx="58.32" cy="334.95" r="1.6" fill="#18204a"/>
<circle cx="59.69" cy="334.13" r="1.6" fill="#18204a"/>
<circle cx="61.05" cy="333.28" r="1.6" fill="#18204a"/>
<circle cx="62.39" cy="332.41" r="1.6" fill="#18204a"/>
<circle cx="63.71" cy="331.5" r="1.6" fill="#18204a"/>
<circle cx="65.02" cy="330.58" r="1.6" fill="#18204a"/>
<circle cx="66.31" cy="329.64" r="1.6" fill="#18204a"/>
<circle cx="67.6" cy="328.68" r="1.6" fill="#18204a"/>
<circle cx="68.86" cy="327.7" r="1.6" fill="#18204a"/>
<circle cx="70.1" cy="326.68" r="1.6" fill="#18204a"/>
<circle cx="71.31" cy="325.64" r="1.6" fill="#18204a"/>
<circle cx="71.7" cy="325.3" r="1.6" fill="#18204a"/>
<circle cx="76.6" cy="322.3" r="1.6" fill="#18204a"/>
<circle cx="80.2" cy="319.9" r="1.6" fill="#18204a"/>
<circle cx="83.8" cy="318.1" r="1.6" fill="#18204a"/>
<circle cx="88" cy="316.3" r="1.6" fill="#18204a"/>
<circle cx="92.3" cy="314.5" r="1.6" fill="#18204a"/>
<circle cx="97.1" cy="312.7" r="1.6" fill="#18204a"/>
<circle cx="102.5" cy="311.5" r="1.6" fill="#18204a"/>
<circle cx="107.9" cy="310.6" r="1.6" fill="#18204a"/>
<circle cx="113.3" cy="309.9" r="1.6" fill="#18204a"/>
<circle cx="118.9" cy="309.5" r="1.6" fill="#18204a"/>
<circle cx="124.5" cy="309.5" r="1.6" fill="#18204a"/>
<circle cx="130.4" cy="309.9" r="1.6" fill="#18204a"/>
<circle cx="136" cy="310.5" r="1.6" fill="#18204a"/>
<circle cx="141.5" cy="311.6" r="1.6" fill="#18204a"/>
<circle cx="147.1" cy="312.9" r="1.6" fill="#18204a"/>
<circle cx="151.8" cy="314.2" r="1.6" fill="#18204a"/>
<circle cx="156.6" cy="315.8" r="1.6" fill="#18204a"/>
<circle cx="160.6" cy="317.4" r="1.6" fill="#18204a"/>
<circle cx="164.5" cy="319.7" r="1.6" fill="#18204a"/>
<circle cx="167.8" cy="322.3" r="1.6" fill="#18204a"/>
<circle cx="172.8" cy="324.3" r="1.6" fill="#18204a"/>
<circle cx="175.7" cy="325.6" r="1.6" fill="#18204a"/>
<circle cx="179.6" cy="327.6" r="1.6" fill="#18204a"/>
<circle cx="182.9" cy="329.2" r="1.6" fill="#18204a"/>
<circle cx="185.6" cy="331.5" r="1.6" fill="#18204a"/>
<rect x="45.8" y="209.8" width="180.4" height="132.5" fill="none" stroke="#1a1a1a" stroke-width="1.1"/>
<line x1="43" y1="342.3" x2="45.8" y2="342.3" stroke="#1a1a1a" stroke-width="0.9" />
<text x="41.5" y="345.25" font-size="8.2" text-anchor="end" font-weight="normal" fill="#1a1a1a" >0.0</text>
<line x1="43" y1="307" x2="45.8" y2="307" stroke="#1a1a1a" stroke-width="0.9" />
<text x="41.5" y="309.95" font-size="8.2" text-anchor="end" font-weight="normal" fill="#1a1a1a" >-0.5</text>
<line x1="43" y1="271.7" x2="45.8" y2="271.7" stroke="#1a1a1a" stroke-width="0.9" />
<text x="41.5" y="274.65" font-size="8.2" text-anchor="end" font-weight="normal" fill="#1a1a1a" >-1.0</text>
<line x1="43" y1="236.4" x2="45.8" y2="236.4" stroke="#1a1a1a" stroke-width="0.9" />
<text x="41.5" y="239.35" font-size="8.2" text-anchor="end" font-weight="normal" fill="#1a1a1a" >-1.5</text>
<line x1="44.2" y1="324.65" x2="45.8" y2="324.65" stroke="#1a1a1a" stroke-width="0.9" />
<line x1="44.2" y1="289.35" x2="45.8" y2="289.35" stroke="#1a1a1a" stroke-width="0.9" />
<line x1="44.2" y1="254.05" x2="45.8" y2="254.05" stroke="#1a1a1a" stroke-width="0.9" />
<line x1="44.2" y1="218.75" x2="45.8" y2="218.75" stroke="#1a1a1a" stroke-width="0.9" />
<line x1="45.8" y1="342.3" x2="45.8" y2="345.1" stroke="#1a1a1a" stroke-width="0.9" />
<text x="45.8" y="353.7" font-size="8.2" text-anchor="middle" font-weight="normal" fill="#1a1a1a" >0.0</text>
<line x1="82" y1="342.3" x2="82" y2="345.1" stroke="#1a1a1a" stroke-width="0.9" />
<text x="82" y="353.7" font-size="8.2" text-anchor="middle" font-weight="normal" fill="#1a1a1a" >0.5</text>
<line x1="118.2" y1="342.3" x2="118.2" y2="345.1" stroke="#1a1a1a" stroke-width="0.9" />
<text x="118.2" y="353.7" font-size="8.2" text-anchor="middle" font-weight="normal" fill="#1a1a1a" >1.0</text>
<line x1="154.4" y1="342.3" x2="154.4" y2="345.1" stroke="#1a1a1a" stroke-width="0.9" />
<text x="154.4" y="353.7" font-size="8.2" text-anchor="middle" font-weight="normal" fill="#1a1a1a" >1.5</text>
<line x1="190.6" y1="342.3" x2="190.6" y2="345.1" stroke="#1a1a1a" stroke-width="0.9" />
<text x="190.6" y="353.7" font-size="8.2" text-anchor="middle" font-weight="normal" fill="#1a1a1a" >2.0</text>
<line x1="226.8" y1="342.3" x2="226.8" y2="345.1" stroke="#1a1a1a" stroke-width="0.9" />
<text x="226.8" y="353.7" font-size="8.2" text-anchor="middle" font-weight="normal" fill="#1a1a1a" >2.5</text>
<line x1="63.9" y1="342.3" x2="63.9" y2="343.9" stroke="#1a1a1a" stroke-width="0.9" />
<line x1="100.1" y1="342.3" x2="100.1" y2="343.9" stroke="#1a1a1a" stroke-width="0.9" />
<line x1="136.3" y1="342.3" x2="136.3" y2="343.9" stroke="#1a1a1a" stroke-width="0.9" />
<line x1="172.5" y1="342.3" x2="172.5" y2="343.9" stroke="#1a1a1a" stroke-width="0.9" />
<line x1="208.7" y1="342.3" x2="208.7" y2="343.9" stroke="#1a1a1a" stroke-width="0.9" />
<text x="135.5" y="367.5" font-size="8.2" text-anchor="middle" font-weight="normal" fill="#1a1a1a" >Z' (Ω cm<tspan dy="-3.12" font-size="5.08">2</tspan><tspan dy="3.12">)</tspan></text>
<text x="20.8" y="282.5" font-size="8.2" text-anchor="middle" font-weight="normal" fill="#1a1a1a" transform="rotate(-90 20.8 282.5)">Z'' (Ω cm<tspan dy="-3.12" font-size="5.08">2</tspan><tspan dy="3.12">)</tspan></text>
<text x="2.5" y="210.8" font-size="14.5" text-anchor="start" font-weight="bold" fill="#1a1a1a" >(d)</text>
<text x="223.8" y="221.5" font-size="8.2" text-anchor="end" font-weight="normal" fill="#1a1a1a" >5% H<tspan font-size="5.5" dy="2.2">2</tspan><tspan dy="-2.2">O-air</tspan></text>
<circle cx="189" cy="228.5" r="1.7" fill="#d6a43c"/>
<text x="197.7" y="231.5" font-size="8.2" text-anchor="start" font-weight="normal" fill="#1a1a1a" >700 <tspan font-size="5.5" dy="-2.6">o</tspan><tspan dy="2.6">C</tspan></text>
<circle cx="189" cy="238.43" r="1.7" fill="#e3653f"/>
<text x="197.7" y="241.43" font-size="8.2" text-anchor="start" font-weight="normal" fill="#1a1a1a" >650 <tspan font-size="5.5" dy="-2.6">o</tspan><tspan dy="2.6">C</tspan></text>
<circle cx="189" cy="248.36" r="1.7" fill="#7a3e4c"/>
<text x="197.7" y="251.36" font-size="8.2" text-anchor="start" font-weight="normal" fill="#1a1a1a" >600 <tspan font-size="5.5" dy="-2.6">o</tspan><tspan dy="2.6">C</tspan></text>
<circle cx="189" cy="258.29" r="1.7" fill="#4d6ca3"/>
<text x="197.7" y="261.29" font-size="8.2" text-anchor="start" font-weight="normal" fill="#1a1a1a" >550 <tspan font-size="5.5" dy="-2.6">o</tspan><tspan dy="2.6">C</tspan></text>
<circle cx="189" cy="268.22" r="1.7" fill="#18204a"/>
<text x="197.7" y="271.22" font-size="8.2" text-anchor="start" font-weight="normal" fill="#1a1a1a" >500 <tspan font-size="5.5" dy="-2.6">o</tspan><tspan dy="2.6">C</tspan></text>
<text x="223.8" y="281" font-size="8.2" text-anchor="end" font-weight="normal" fill="#1a1a1a" >PLNBSCC</text>
<circle cx="76.9" cy="262" r="1.0" fill="#7a3e4c"/>
<circle cx="77.68" cy="261.23" r="1.0" fill="#7a3e4c"/>
<circle cx="78.45" cy="260.44" r="1.0" fill="#7a3e4c"/>
<circle cx="79.22" cy="259.65" r="1.0" fill="#7a3e4c"/>
<circle cx="79.99" cy="258.87" r="1.0" fill="#7a3e4c"/>
<circle cx="80.77" cy="258.1" r="1.0" fill="#7a3e4c"/>
<circle cx="81.57" cy="257.34" r="1.0" fill="#7a3e4c"/>
<circle cx="82.38" cy="256.59" r="1.0" fill="#7a3e4c"/>
<circle cx="83.2" cy="255.87" r="1.0" fill="#7a3e4c"/>
<circle cx="84.06" cy="255.17" r="1.0" fill="#7a3e4c"/>
<circle cx="84.94" cy="254.52" r="1.0" fill="#7a3e4c"/>
<circle cx="85.86" cy="253.91" r="1.0" fill="#7a3e4c"/>
<circle cx="86.79" cy="253.32" r="1.0" fill="#7a3e4c"/>
<circle cx="87.74" cy="252.77" r="1.0" fill="#7a3e4c"/>
<circle cx="88.7" cy="252.24" r="1.0" fill="#7a3e4c"/>
<circle cx="89.68" cy="251.73" r="1.0" fill="#7a3e4c"/>
<circle cx="90.67" cy="251.25" r="1.0" fill="#7a3e4c"/>
<circle cx="91.67" cy="250.79" r="1.0" fill="#7a3e4c"/>
<circle cx="92.68" cy="250.35" r="1.0" fill="#7a3e4c"/>
<circle cx="93.69" cy="249.94" r="1.0" fill="#7a3e4c"/>
<circle cx="94.72" cy="249.54" r="1.0" fill="#7a3e4c"/>
<circle cx="95.76" cy="249.17" r="1.0" fill="#7a3e4c"/>
<circle cx="96.8" cy="248.82" r="1.0" fill="#7a3e4c"/>
<circle cx="99.41" cy="248.12" r="1.0" fill="#7a3e4c"/>
<circle cx="102.06" cy="247.61" r="1.0" fill="#7a3e4c"/>
<circle cx="104.73" cy="247.2" r="1.0" fill="#7a3e4c"/>
<circle cx="107.4" cy="246.83" r="1.0" fill="#7a3e4c"/>
<circle cx="110.08" cy="246.5" r="1.0" fill="#7a3e4c"/>
<circle cx="112.76" cy="246.2" r="1.0" fill="#7a3e4c"/>
<circle cx="115.45" cy="245.93" r="1.0" fill="#7a3e4c"/>
<circle cx="118.14" cy="245.69" r="1.0" fill="#7a3e4c"/>
<circle cx="120.83" cy="245.49" r="1.0" fill="#7a3e4c"/>
<circle cx="123.53" cy="245.37" r="1.0" fill="#7a3e4c"/>
<circle cx="126.23" cy="245.36" r="1.0" fill="#7a3e4c"/>
<circle cx="128.92" cy="245.52" r="1.0" fill="#7a3e4c"/>
<circle cx="131.6" cy="245.89" r="1.0" fill="#7a3e4c"/>
<circle cx="134.25" cy="246.4" r="1.0" fill="#7a3e4c"/>
<circle cx="136.88" cy="247" r="1.0" fill="#7a3e4c"/>
<circle cx="139.47" cy="247.75" r="1.0" fill="#7a3e4c"/>
<circle cx="142.03" cy="248.63" r="1.0" fill="#7a3e4c"/>
<circle cx="144.53" cy="249.65" r="1.0" fill="#7a3e4c"/>
<circle cx="146.92" cy="250.9" r="1.0" fill="#7a3e4c"/>
<circle cx="149.2" cy="252.35" r="1.0" fill="#7a3e4c"/>
<circle cx="151.45" cy="253.84" r="1.0" fill="#7a3e4c"/>
<circle cx="153.75" cy="255.24" r="1.0" fill="#7a3e4c"/>
<circle cx="156.06" cy="256.65" r="1.0" fill="#7a3e4c"/>
<circle cx="157.9" cy="257.78" r="1.0" fill="#7a3e4c"/>
<circle cx="76.9" cy="262" r="0.95" fill="#e3653f"/>
<circle cx="77.74" cy="261.45" r="0.95" fill="#e3653f"/>
<circle cx="78.56" cy="260.88" r="0.95" fill="#e3653f"/>
<circle cx="79.38" cy="260.32" r="0.95" fill="#e3653f"/>
<circle cx="80.23" cy="259.78" r="0.95" fill="#e3653f"/>
<circle cx="81.09" cy="259.28" r="0.95" fill="#e3653f"/>
<circle cx="81.98" cy="258.82" r="0.95" fill="#e3653f"/>
<circle cx="82.89" cy="258.41" r="0.95" fill="#e3653f"/>
<circle cx="83.83" cy="258.06" r="0.95" fill="#e3653f"/>
<circle cx="84.78" cy="257.75" r="0.95" fill="#e3653f"/>
<circle cx="85.73" cy="257.45" r="0.95" fill="#e3653f"/>
<circle cx="86.69" cy="257.17" r="0.95" fill="#e3653f"/>
<circle cx="87.66" cy="256.91" r="0.95" fill="#e3653f"/>
<circle cx="88.63" cy="256.65" r="0.95" fill="#e3653f"/>
<circle cx="89.6" cy="256.41" r="0.95" fill="#e3653f"/>
<circle cx="90.57" cy="256.19" r="0.95" fill="#e3653f"/>
<circle cx="91.55" cy="255.97" r="0.95" fill="#e3653f"/>
<circle cx="92.53" cy="255.77" r="0.95" fill="#e3653f"/>
<circle cx="93.51" cy="255.59" r="0.95" fill="#e3653f"/>
<circle cx="94.5" cy="255.43" r="0.95" fill="#e3653f"/>
<circle cx="95.49" cy="255.29" r="0.95" fill="#e3653f"/>
<circle cx="96.48" cy="255.19" r="0.95" fill="#e3653f"/>
<circle cx="97.48" cy="255.12" r="0.95" fill="#e3653f"/>
<circle cx="98.48" cy="255.09" r="0.95" fill="#e3653f"/>
<circle cx="99.48" cy="255.11" r="0.95" fill="#e3653f"/>
<circle cx="100.48" cy="255.17" r="0.95" fill="#e3653f"/>
<circle cx="101.47" cy="255.27" r="0.95" fill="#e3653f"/>
<circle cx="102.46" cy="255.42" r="0.95" fill="#e3653f"/>
<circle cx="103.44" cy="255.61" r="0.95" fill="#e3653f"/>
<circle cx="104.41" cy="255.85" r="0.95" fill="#e3653f"/>
<circle cx="105.38" cy="256.12" r="0.95" fill="#e3653f"/>
<circle cx="106.33" cy="256.43" r="0.95" fill="#e3653f"/>
<circle cx="107.27" cy="256.76" r="0.95" fill="#e3653f"/>
<circle cx="108.19" cy="257.16" r="0.95" fill="#e3653f"/>
<circle cx="109.08" cy="257.61" r="0.95" fill="#e3653f"/>
<circle cx="109.95" cy="258.1" r="0.95" fill="#e3653f"/>
<circle cx="110.8" cy="258.62" r="0.95" fill="#e3653f"/>
<circle cx="111.64" cy="259.16" r="0.95" fill="#e3653f"/>
<circle cx="112.48" cy="259.72" r="0.95" fill="#e3653f"/>
<circle cx="113.3" cy="260.29" r="0.95" fill="#e3653f"/>
<circle cx="114.11" cy="260.87" r="0.95" fill="#e3653f"/>
<circle cx="114.93" cy="261.44" r="0.95" fill="#e3653f"/>
<circle cx="115.76" cy="262" r="0.95" fill="#e3653f"/>
<circle cx="76.9" cy="262" r="0.95" fill="#d6a43c"/>
<circle cx="77.73" cy="261.44" r="0.95" fill="#d6a43c"/>
<circle cx="78.55" cy="260.87" r="0.95" fill="#d6a43c"/>
<circle cx="79.41" cy="260.35" r="0.95" fill="#d6a43c"/>
<circle cx="80.31" cy="259.92" r="0.95" fill="#d6a43c"/>
<circle cx="81.26" cy="259.61" r="0.95" fill="#d6a43c"/>
<circle cx="82.23" cy="259.37" r="0.95" fill="#d6a43c"/>
<circle cx="83.21" cy="259.2" r="0.95" fill="#d6a43c"/>
<circle cx="84.21" cy="259.11" r="0.95" fill="#d6a43c"/>
<circle cx="85.21" cy="259.1" r="0.95" fill="#d6a43c"/>
<circle cx="86.21" cy="259.17" r="0.95" fill="#d6a43c"/>
<circle cx="87.2" cy="259.29" r="0.95" fill="#d6a43c"/>
<circle cx="88.18" cy="259.48" r="0.95" fill="#d6a43c"/>
<circle cx="89.15" cy="259.72" r="0.95" fill="#d6a43c"/>
<circle cx="90.1" cy="260.04" r="0.95" fill="#d6a43c"/>
<circle cx="91" cy="260.48" r="0.95" fill="#d6a43c"/>
<circle cx="91.86" cy="260.99" r="0.95" fill="#d6a43c"/>
<circle cx="92.69" cy="261.53" r="0.95" fill="#d6a43c"/>
<circle cx="93.43" cy="262" r="0.95" fill="#d6a43c"/>
<rect x="76.9" y="220.6" width="93.1" height="41.4" fill="none" stroke="#1a1a1a" stroke-width="0.9"/>
<line x1="75.4" y1="262" x2="76.9" y2="262" stroke="#1a1a1a" stroke-width="0.6" />
<text x="74.9" y="263.8" font-size="5.0" text-anchor="end" font-weight="normal" fill="#1a1a1a" >0.00</text>
<line x1="75.4" y1="248.8" x2="76.9" y2="248.8" stroke="#1a1a1a" stroke-width="0.6" />
<text x="74.9" y="250.6" font-size="5.0" text-anchor="end" font-weight="normal" fill="#1a1a1a" >-0.05</text>
<line x1="75.4" y1="235.6" x2="76.9" y2="235.6" stroke="#1a1a1a" stroke-width="0.6" />
<text x="74.9" y="237.4" font-size="5.0" text-anchor="end" font-weight="normal" fill="#1a1a1a" >-0.10</text>
<line x1="75.4" y1="222.4" x2="76.9" y2="222.4" stroke="#1a1a1a" stroke-width="0.6" />
<text x="74.9" y="224.2" font-size="5.0" text-anchor="end" font-weight="normal" fill="#1a1a1a" >-0.15</text>
<line x1="76" y1="255.4" x2="76.9" y2="255.4" stroke="#1a1a1a" stroke-width="0.6" />
<line x1="76" y1="242.2" x2="76.9" y2="242.2" stroke="#1a1a1a" stroke-width="0.6" />
<line x1="76" y1="229" x2="76.9" y2="229" stroke="#1a1a1a" stroke-width="0.6" />
<line x1="76.9" y1="262" x2="76.9" y2="263.5" stroke="#1a1a1a" stroke-width="0.6" />
<text x="76.9" y="268.3" font-size="5.0" text-anchor="middle" font-weight="normal" fill="#1a1a1a" >0.0</text>
<line x1="100.18" y1="262" x2="100.18" y2="263.5" stroke="#1a1a1a" stroke-width="0.6" />
<text x="100.18" y="268.3" font-size="5.0" text-anchor="middle" font-weight="normal" fill="#1a1a1a" >0.1</text>
<line x1="123.45" y1="262" x2="123.45" y2="263.5" stroke="#1a1a1a" stroke-width="0.6" />
<text x="123.45" y="268.3" font-size="5.0" text-anchor="middle" font-weight="normal" fill="#1a1a1a" >0.2</text>
<line x1="146.72" y1="262" x2="146.72" y2="263.5" stroke="#1a1a1a" stroke-width="0.6" />
<text x="146.72" y="268.3" font-size="5.0" text-anchor="middle" font-weight="normal" fill="#1a1a1a" >0.3</text>
<line x1="170" y1="262" x2="170" y2="263.5" stroke="#1a1a1a" stroke-width="0.6" />
<text x="170" y="268.3" font-size="5.0" text-anchor="middle" font-weight="normal" fill="#1a1a1a" >0.4</text>
<line x1="88.54" y1="262" x2="88.54" y2="262.9" stroke="#1a1a1a" stroke-width="0.6" />
<line x1="111.81" y1="262" x2="111.81" y2="262.9" stroke="#1a1a1a" stroke-width="0.6" />
<line x1="135.09" y1="262" x2="135.09" y2="262.9" stroke="#1a1a1a" stroke-width="0.6" />
<line x1="158.36" y1="262" x2="158.36" y2="262.9" stroke="#1a1a1a" stroke-width="0.6" />
<text x="124.5" y="277.3" font-size="5.2" text-anchor="middle" font-weight="normal" fill="#1a1a1a" >Z' (Ω cm<tspan dy="-1.98" font-size="3.22">2</tspan><tspan dy="1.98">)</tspan></text>
<text x="57.5" y="241" font-size="5.2" text-anchor="middle" font-weight="normal" fill="#1a1a1a" transform="rotate(-90 57.5 241)">Z'' (Ω cm<tspan dy="-1.98" font-size="3.22">2</tspan><tspan dy="1.98">)</tspan></text>
<circle cx="274.6" cy="268.4" r="1.7" fill="#d8a43c"/>
<circle cx="276.1" cy="267.08" r="1.7" fill="#d8a43c"/>
<circle cx="277.69" cy="265.87" r="1.7" fill="#d8a43c"/>
<circle cx="279.51" cy="265.05" r="1.7" fill="#d8a43c"/>
<circle cx="281.45" cy="264.57" r="1.7" fill="#d8a43c"/>
<circle cx="283.43" cy="264.27" r="1.7" fill="#d8a43c"/>
<circle cx="285.59" cy="264.17" r="1.7" fill="#d8a43c"/>
<circle cx="287.93" cy="264.11" r="1.7" fill="#d8a43c"/>
<circle cx="290.44" cy="263.78" r="1.7" fill="#d8a43c"/>
<circle cx="292.88" cy="262.58" r="1.7" fill="#d8a43c"/>
<circle cx="295.17" cy="260.7" r="1.7" fill="#d8a43c"/>
<circle cx="297.87" cy="258.97" r="1.7" fill="#d8a43c"/>
<circle cx="300.83" cy="257.16" r="1.7" fill="#d8a43c"/>
<circle cx="304.08" cy="255.27" r="1.7" fill="#d8a43c"/>
<circle cx="307.48" cy="253.58" r="1.7" fill="#d8a43c"/>
<circle cx="311.06" cy="252.29" r="1.7" fill="#d8a43c"/>
<circle cx="314.73" cy="251.35" r="1.7" fill="#d8a43c"/>
<circle cx="318.45" cy="250.56" r="1.7" fill="#d8a43c"/>
<circle cx="322.21" cy="249.97" r="1.7" fill="#d8a43c"/>
<circle cx="325.99" cy="249.64" r="1.7" fill="#d8a43c"/>
<circle cx="329.79" cy="249.46" r="1.7" fill="#d8a43c"/>
<circle cx="333.59" cy="249.47" r="1.7" fill="#d8a43c"/>
<circle cx="337.38" cy="249.72" r="1.7" fill="#d8a43c"/>
<circle cx="341.15" cy="250.16" r="1.7" fill="#d8a43c"/>
<circle cx="344.9" cy="250.77" r="1.7" fill="#d8a43c"/>
<circle cx="348.62" cy="251.57" r="1.7" fill="#d8a43c"/>
<circle cx="352.25" cy="252.66" r="1.7" fill="#d8a43c"/>
<circle cx="355.78" cy="254.08" r="1.7" fill="#d8a43c"/>
<circle cx="359.2" cy="255.74" r="1.7" fill="#d8a43c"/>
<circle cx="362.49" cy="257.63" r="1.7" fill="#d8a43c"/>
<circle cx="365.73" cy="259.61" r="1.7" fill="#d8a43c"/>
<circle cx="367.54" cy="260.72" r="1.7" fill="#d8a43c"/>
<circle cx="274.6" cy="268.4" r="1.7" fill="#e0603c"/>
<circle cx="276.17" cy="267.16" r="1.7" fill="#e0603c"/>
<circle cx="277.75" cy="265.93" r="1.7" fill="#e0603c"/>
<circle cx="279.36" cy="264.75" r="1.7" fill="#e0603c"/>
<circle cx="281.02" cy="263.63" r="1.7" fill="#e0603c"/>
<circle cx="282.73" cy="262.6" r="1.7" fill="#e0603c"/>
<circle cx="284.47" cy="261.61" r="1.7" fill="#e0603c"/>
<circle cx="286.34" cy="260.56" r="1.7" fill="#e0603c"/>
<circle cx="288.42" cy="259.37" r="1.7" fill="#e0603c"/>
<circle cx="290.72" cy="257.96" r="1.7" fill="#e0603c"/>
<circle cx="293.22" cy="256.27" r="1.7" fill="#e0603c"/>
<circle cx="295.98" cy="254.32" r="1.7" fill="#e0603c"/>
<circle cx="299.11" cy="252.18" r="1.7" fill="#e0603c"/>
<circle cx="302.68" cy="249.86" r="1.7" fill="#e0603c"/>
<circle cx="306.73" cy="247.35" r="1.7" fill="#e0603c"/>
<circle cx="311.48" cy="244.92" r="1.7" fill="#e0603c"/>
<circle cx="316.7" cy="242.89" r="1.7" fill="#e0603c"/>
<circle cx="322.04" cy="241.22" r="1.7" fill="#e0603c"/>
<circle cx="327.51" cy="240" r="1.7" fill="#e0603c"/>
<circle cx="333.03" cy="239.11" r="1.7" fill="#e0603c"/>
<circle cx="338.6" cy="238.45" r="1.7" fill="#e0603c"/>
<circle cx="344.16" cy="237.8" r="1.7" fill="#e0603c"/>
<circle cx="349.74" cy="237.31" r="1.7" fill="#e0603c"/>
<circle cx="355.32" cy="236.93" r="1.7" fill="#e0603c"/>
<circle cx="360.92" cy="236.95" r="1.7" fill="#e0603c"/>
<circle cx="366.5" cy="237.46" r="1.7" fill="#e0603c"/>
<circle cx="372.05" cy="238.19" r="1.7" fill="#e0603c"/>
<circle cx="377.56" cy="239.18" r="1.7" fill="#e0603c"/>
<circle cx="382.96" cy="240.64" r="1.7" fill="#e0603c"/>
<circle cx="388.2" cy="242.62" r="1.7" fill="#e0603c"/>
<circle cx="393.37" cy="244.77" r="1.7" fill="#e0603c"/>
<circle cx="398.44" cy="247.15" r="1.7" fill="#e0603c"/>
<circle cx="274.6" cy="268.4" r="1.7" fill="#6f3846"/>
<circle cx="276.17" cy="267.16" r="1.7" fill="#6f3846"/>
<circle cx="277.74" cy="265.92" r="1.7" fill="#6f3846"/>
<circle cx="279.35" cy="264.74" r="1.7" fill="#6f3846"/>
<circle cx="281.02" cy="263.64" r="1.7" fill="#6f3846"/>
<circle cx="282.77" cy="262.67" r="1.7" fill="#6f3846"/>
<circle cx="284.55" cy="261.76" r="1.7" fill="#6f3846"/>
<circle cx="286.34" cy="260.86" r="1.7" fill="#6f3846"/>
<circle cx="288.19" cy="259.88" r="1.7" fill="#6f3846"/>
<circle cx="290.18" cy="258.69" r="1.7" fill="#6f3846"/>
<circle cx="292.33" cy="257.26" r="1.7" fill="#6f3846"/>
<circle cx="294.69" cy="255.62" r="1.7" fill="#6f3846"/>
<circle cx="297.32" cy="253.83" r="1.7" fill="#6f3846"/>
<circle cx="300.23" cy="251.82" r="1.7" fill="#6f3846"/>
<circle cx="303.46" cy="249.6" r="1.7" fill="#6f3846"/>
<circle cx="307.09" cy="247.18" r="1.7" fill="#6f3846"/>
<circle cx="311.27" cy="244.72" r="1.7" fill="#6f3846"/>
<circle cx="316.14" cy="242.45" r="1.7" fill="#6f3846"/>
<circle cx="321.77" cy="240.47" r="1.7" fill="#6f3846"/>
<circle cx="327.43" cy="238.47" r="1.7" fill="#6f3846"/>
<circle cx="333.09" cy="236.47" r="1.7" fill="#6f3846"/>
<circle cx="338.85" cy="234.81" r="1.7" fill="#6f3846"/>
<circle cx="344.76" cy="233.8" r="1.7" fill="#6f3846"/>
<circle cx="350.73" cy="233.17" r="1.7" fill="#6f3846"/>
<circle cx="356.71" cy="232.69" r="1.7" fill="#6f3846"/>
<circle cx="362.7" cy="232.36" r="1.7" fill="#6f3846"/>
<circle cx="368.7" cy="232.23" r="1.7" fill="#6f3846"/>
<circle cx="374.69" cy="232.36" r="1.7" fill="#6f3846"/>
<circle cx="380.68" cy="232.7" r="1.7" fill="#6f3846"/>
<circle cx="386.66" cy="233.26" r="1.7" fill="#6f3846"/>
<circle cx="392.6" cy="234.08" r="1.7" fill="#6f3846"/>
<circle cx="398.45" cy="235.42" r="1.7" fill="#6f3846"/>
<circle cx="404.17" cy="237.22" r="1.7" fill="#6f3846"/>
<circle cx="409.91" cy="238.96" r="1.7" fill="#6f3846"/>
<circle cx="415.68" cy="240.6" r="1.7" fill="#6f3846"/>
<circle cx="421.32" cy="242.63" r="1.7" fill="#6f3846"/>
<circle cx="426.66" cy="245.37" r="1.7" fill="#6f3846"/>
<circle cx="274.6" cy="268.4" r="1.7" fill="#4a6498"/>
<circle cx="275.54" cy="266.64" r="1.7" fill="#4a6498"/>
<circle cx="276.6" cy="264.94" r="1.7" fill="#4a6498"/>
<circle cx="277.98" cy="263.5" r="1.7" fill="#4a6498"/>
<circle cx="279.61" cy="262.35" r="1.7" fill="#4a6498"/>
<circle cx="281.43" cy="261.53" r="1.7" fill="#4a6498"/>
<circle cx="283.44" cy="261.03" r="1.7" fill="#4a6498"/>
<circle cx="285.68" cy="260.57" r="1.7" fill="#4a6498"/>
<circle cx="288.1" cy="259.88" r="1.7" fill="#4a6498"/>
<circle cx="290.72" cy="258.95" r="1.7" fill="#4a6498"/>
<circle cx="293.57" cy="257.86" r="1.7" fill="#4a6498"/>
<circle cx="296.72" cy="256.66" r="1.7" fill="#4a6498"/>
<circle cx="300.2" cy="255.37" r="1.7" fill="#4a6498"/>
<circle cx="304.04" cy="253.97" r="1.7" fill="#4a6498"/>
<circle cx="308.32" cy="252.55" r="1.7" fill="#4a6498"/>
<circle cx="312.74" cy="251.3" r="1.7" fill="#4a6498"/>
<circle cx="317.23" cy="250.28" r="1.7" fill="#4a6498"/>
<circle cx="321.75" cy="249.43" r="1.7" fill="#4a6498"/>
<circle cx="326.29" cy="248.7" r="1.7" fill="#4a6498"/>
<circle cx="330.85" cy="248.09" r="1.7" fill="#4a6498"/>
<circle cx="335.42" cy="247.6" r="1.7" fill="#4a6498"/>
<circle cx="340" cy="247.17" r="1.7" fill="#4a6498"/>
<circle cx="344.6" cy="247.19" r="1.7" fill="#4a6498"/>
<circle cx="349.18" cy="247.58" r="1.7" fill="#4a6498"/>
<circle cx="353.75" cy="248.15" r="1.7" fill="#4a6498"/>
<circle cx="358.28" cy="248.92" r="1.7" fill="#4a6498"/>
<circle cx="362.77" cy="249.91" r="1.7" fill="#4a6498"/>
<circle cx="367.21" cy="251.1" r="1.7" fill="#4a6498"/>
<circle cx="371.59" cy="252.51" r="1.7" fill="#4a6498"/>
<circle cx="375.84" cy="254.28" r="1.7" fill="#4a6498"/>
<circle cx="379.83" cy="256.56" r="1.7" fill="#4a6498"/>
<circle cx="383.23" cy="258.68" r="1.7" fill="#4a6498"/>
<rect x="274.6" y="209.5" width="181.5" height="58.9" fill="none" stroke="#1a1a1a" stroke-width="1.1"/>
<line x1="271.8" y1="268.4" x2="274.6" y2="268.4" stroke="#1a1a1a" stroke-width="0.9" />
<text x="270.3" y="271.35" font-size="8.2" text-anchor="end" font-weight="normal" fill="#1a1a1a" >0.0</text>
<line x1="271.8" y1="245.8" x2="274.6" y2="245.8" stroke="#1a1a1a" stroke-width="0.9" />
<text x="270.3" y="248.75" font-size="8.2" text-anchor="end" font-weight="normal" fill="#1a1a1a" >-0.2</text>
<line x1="271.8" y1="223.2" x2="274.6" y2="223.2" stroke="#1a1a1a" stroke-width="0.9" />
<text x="270.3" y="226.15" font-size="8.2" text-anchor="end" font-weight="normal" fill="#1a1a1a" >-0.4</text>
<line x1="273" y1="257.1" x2="274.6" y2="257.1" stroke="#1a1a1a" stroke-width="0.9" />
<line x1="273" y1="234.5" x2="274.6" y2="234.5" stroke="#1a1a1a" stroke-width="0.9" />
<line x1="273" y1="211.9" x2="274.6" y2="211.9" stroke="#1a1a1a" stroke-width="0.9" />
<line x1="274.6" y1="268.4" x2="274.6" y2="271.2" stroke="#1a1a1a" stroke-width="0.9" />
<text x="274.6" y="279.8" font-size="8.2" text-anchor="middle" font-weight="normal" fill="#1a1a1a" >0.0</text>
<line x1="310.81" y1="268.4" x2="310.81" y2="271.2" stroke="#1a1a1a" stroke-width="0.9" />
<text x="310.81" y="279.8" font-size="8.2" text-anchor="middle" font-weight="normal" fill="#1a1a1a" >0.3</text>
<line x1="347.02" y1="268.4" x2="347.02" y2="271.2" stroke="#1a1a1a" stroke-width="0.9" />
<text x="347.02" y="279.8" font-size="8.2" text-anchor="middle" font-weight="normal" fill="#1a1a1a" >0.6</text>
<line x1="383.23" y1="268.4" x2="383.23" y2="271.2" stroke="#1a1a1a" stroke-width="0.9" />
<text x="383.23" y="279.8" font-size="8.2" text-anchor="middle" font-weight="normal" fill="#1a1a1a" >0.9</text>
<line x1="419.44" y1="268.4" x2="419.44" y2="271.2" stroke="#1a1a1a" stroke-width="0.9" />
<text x="419.44" y="279.8" font-size="8.2" text-anchor="middle" font-weight="normal" fill="#1a1a1a" >1.2</text>
<line x1="455.65" y1="268.4" x2="455.65" y2="271.2" stroke="#1a1a1a" stroke-width="0.9" />
<text x="455.65" y="279.8" font-size="8.2" text-anchor="middle" font-weight="normal" fill="#1a1a1a" >1.5</text>
<line x1="292.71" y1="268.4" x2="292.71" y2="270" stroke="#1a1a1a" stroke-width="0.9" />
<line x1="328.92" y1="268.4" x2="328.92" y2="270" stroke="#1a1a1a" stroke-width="0.9" />
<line x1="365.12" y1="268.4" x2="365.12" y2="270" stroke="#1a1a1a" stroke-width="0.9" />
<line x1="401.34" y1="268.4" x2="401.34" y2="270" stroke="#1a1a1a" stroke-width="0.9" />
<line x1="437.55" y1="268.4" x2="437.55" y2="270" stroke="#1a1a1a" stroke-width="0.9" />
<text x="366.2" y="288" font-size="8.2" text-anchor="middle" font-weight="normal" fill="#1a1a1a" >Z' (Ω cm<tspan dy="-3.12" font-size="5.08">2</tspan><tspan dy="3.12">)</tspan></text>
<text x="254.6" y="238.5" font-size="7.6" text-anchor="middle" font-weight="normal" fill="#1a1a1a" transform="rotate(-90 254.6 238.5)">Z'' (Ω cm<tspan dy="-3.1" font-size="5.1">2</tspan><tspan dy="3.1">)</tspan></text>
<rect x="234" y="196" width="22" height="20" fill="#fff"/>
<text x="236.8" y="211.6" font-size="14.5" text-anchor="start" font-weight="bold" fill="#1a1a1a" >(e)</text>
<circle cx="283.9" cy="214.5" r="1.65" fill="#d8a43c"/>
<text x="292.5" y="217.4" font-size="8.2" text-anchor="start" font-weight="normal" fill="#1a1a1a" >PLNBSCC</text>
<circle cx="283.9" cy="224.1" r="1.65" fill="#e0603c"/>
<text x="292.5" y="227" font-size="8.2" text-anchor="start" font-weight="normal" fill="#1a1a1a" >PLNBC</text>
<circle cx="283.9" cy="233.7" r="1.65" fill="#6f3846"/>
<text x="292.5" y="236.6" font-size="8.2" text-anchor="start" font-weight="normal" fill="#1a1a1a" >PBSCC</text>
<circle cx="283.9" cy="243.3" r="1.65" fill="#4a6498"/>
<text x="292.5" y="246.2" font-size="8.2" text-anchor="start" font-weight="normal" fill="#1a1a1a" >PBC</text>
<text x="451.8" y="218.8" font-size="8.2" text-anchor="end" font-weight="normal" fill="#1a1a1a" >5% H<tspan font-size="5.5" dy="2.2">2</tspan><tspan dy="-2.2">O-air</tspan></text>
<ellipse cx="313.3" cy="334.6" rx="25.5" ry="13" fill="#d8edf8" transform="rotate(17 313.3 334.6)"/>
<ellipse cx="353.2" cy="322.1" rx="32.5" ry="20" fill="#fbe4d2" transform="rotate(47 353.2 322.1)"/>
<polyline points="275.5,350.3 277.73,350.31 280.69,350.33 284.24,350.35 288.24,350.39 292.54,350.42 297,350.44 301.47,350.46 305.81,350.47 309.88,350.46 313.53,350.43 316.62,350.38 319,350.3 320.71,350.21 321.93,350.12 322.73,350.03 323.19,349.93 323.37,349.81 323.34,349.67 323.19,349.5 322.98,349.3 322.79,349.05 322.67,348.76 322.72,348.41 323,348 323.44,347.48 323.91,346.84 324.41,346.1 324.93,345.29 325.46,344.43 326,343.56 326.54,342.71 327.07,341.9 327.59,341.17 328.09,340.54 328.56,340.04 329,339.7 329.4,339.52 329.76,339.45 330.1,339.49 330.41,339.63 330.71,339.83 331.01,340.09 331.3,340.4 331.6,340.73 331.91,341.07 332.25,341.41 332.61,341.72 333,342 333.43,342.29 333.88,342.63 334.36,343.02 334.86,343.44 335.36,343.86 335.88,344.28 336.4,344.68 336.92,345.04 337.44,345.35 337.94,345.59 338.43,345.74 338.9,345.8 339.35,345.75 339.77,345.62 340.18,345.4 340.57,345.13 340.97,344.8 341.36,344.43 341.75,344.02 342.16,343.61 342.58,343.18 343.03,342.77 343.5,342.37 344,342 344.55,341.63 345.13,341.22 345.75,340.78 346.4,340.33 347.06,339.88 347.73,339.42 348.4,338.99 349.06,338.58 349.69,338.2 350.3,337.88 350.87,337.6 351.4,337.4 351.88,337.26 352.31,337.18 352.71,337.14 353.08,337.15 353.43,337.19 353.77,337.26 354.11,337.36 354.45,337.47 354.8,337.6 355.17,337.74 355.57,337.87 356,338 356.46,338.15 356.95,338.34 357.45,338.56 357.96,338.8 358.49,339.05 359.02,339.31 359.56,339.56 360.1,339.79 360.64,340 361.17,340.18 361.69,340.32 362.2,340.4 362.7,340.43 363.2,340.42 363.7,340.37 364.19,340.29 364.69,340.18 365.17,340.06 365.66,339.93 366.14,339.79 366.62,339.65 367.08,339.52 367.55,339.4 368,339.3 368.44,339.21 368.87,339.11 369.28,339 369.69,338.9 370.09,338.79 370.49,338.69 370.89,338.59 371.29,338.5 371.7,338.43 372.12,338.37 372.55,338.32 373,338.3 373.46,338.3 373.94,338.31 374.43,338.33 374.93,338.37 375.43,338.43 375.94,338.49 376.45,338.56 376.96,338.64 377.48,338.72 377.99,338.81 378.5,338.9 379,339 379.5,339.09 379.99,339.18 380.48,339.27 380.96,339.36 381.45,339.46 381.94,339.57 382.43,339.69 382.93,339.83 383.43,339.98 383.94,340.16 384.46,340.37 385,340.6 385.55,340.87 386.1,341.18 386.67,341.52 387.24,341.89 387.82,342.27 388.41,342.67 389,343.07 389.59,343.48 390.19,343.88 390.79,344.27 391.4,344.65 392,345 392.61,345.35 393.23,345.73 393.86,346.11 394.5,346.5 395.14,346.89 395.78,347.26 396.42,347.61 397.06,347.93 397.68,348.21 398.3,348.43 398.91,348.6 399.5,348.7 400.08,348.73 400.67,348.69 401.25,348.6 401.83,348.45 402.41,348.27 402.97,348.05 403.52,347.81 404.06,347.55 404.57,347.28 405.07,347.01 405.55,346.75 406,346.5 406.42,346.25 406.81,345.96 407.17,345.66 407.51,345.34 407.83,345.01 408.14,344.68 408.45,344.35 408.74,344.03 409.04,343.73 409.35,343.45 409.67,343.21 410,343 410.34,342.82 410.69,342.64 411.05,342.48 411.4,342.33 411.76,342.2 412.11,342.09 412.47,342.01 412.82,341.94 413.17,341.91 413.52,341.91 413.86,341.94 414.2,342 414.53,342.1 414.84,342.25 415.15,342.43 415.45,342.64 415.75,342.89 416.04,343.15 416.34,343.43 416.65,343.73 416.97,344.04 417.3,344.36 417.64,344.68 418,345 418.38,345.34 418.79,345.72 419.21,346.13 419.65,346.56 420.09,347 420.54,347.44 420.99,347.88 421.44,348.3 421.88,348.69 422.3,349.04 422.71,349.35 423.1,349.6 423.38,349.8 423.52,349.95 423.55,350.07 423.52,350.15 423.49,350.2 423.49,350.24 423.59,350.26 423.81,350.26 424.22,350.27 424.85,350.27 425.77,350.28 427,350.3 428.68,350.32 430.84,350.34 433.37,350.35 436.18,350.35 439.17,350.35 442.24,350.34 445.31,350.34 448.26,350.33 451,350.32 453.43,350.31 455.47,350.3 457,350.3" fill="none" stroke="#d8a43c" stroke-width="1.3" stroke-linejoin="round" />
<polyline points="275.5,350.3 276.38,350.33 277.53,350.41 278.89,350.52 280.43,350.64 282.08,350.77 283.81,350.88 285.57,350.96 287.3,350.99 288.95,350.95 290.49,350.84 291.85,350.63 293,350.3 293.95,349.84 294.79,349.26 295.51,348.57 296.15,347.8 296.71,346.97 297.22,346.09 297.69,345.18 298.13,344.27 298.57,343.38 299.01,342.52 299.49,341.72 300,341 300.54,340.33 301.06,339.67 301.57,339.03 302.07,338.41 302.57,337.8 303.06,337.21 303.55,336.64 304.04,336.08 304.52,335.53 305.01,335.01 305.5,334.5 306,334 306.5,333.52 307.01,333.06 307.52,332.62 308.04,332.19 308.55,331.78 309.06,331.38 309.57,331 310.07,330.63 310.57,330.28 311.06,329.94 311.54,329.61 312,329.3 312.45,329 312.88,328.71 313.3,328.44 313.71,328.17 314.12,327.93 314.52,327.69 314.92,327.47 315.32,327.27 315.72,327.08 316.14,326.91 316.56,326.75 317,326.6 317.45,326.48 317.91,326.39 318.39,326.32 318.86,326.27 319.35,326.23 319.83,326.21 320.32,326.19 320.8,326.17 321.29,326.14 321.77,326.11 322.24,326.06 322.7,326 323.16,325.94 323.61,325.9 324.06,325.87 324.51,325.85 324.95,325.83 325.39,325.79 325.83,325.73 326.27,325.64 326.71,325.51 327.14,325.33 327.57,325.1 328,324.8 328.42,324.44 328.82,324.02 329.21,323.55 329.59,323.04 329.97,322.5 330.35,321.91 330.74,321.3 331.14,320.67 331.57,320.01 332.01,319.35 332.49,318.68 333,318 333.55,317.26 334.13,316.42 334.75,315.51 335.39,314.54 336.05,313.56 336.72,312.59 337.4,311.66 338.08,310.8 338.75,310.03 339.42,309.39 340.07,308.9 340.7,308.6 341.32,308.48 341.94,308.52 342.56,308.71 343.17,309 343.79,309.4 344.39,309.87 344.99,310.39 345.58,310.95 346.16,311.52 346.72,312.08 347.27,312.62 347.8,313.1 348.3,313.57 348.78,314.07 349.23,314.59 349.66,315.13 350.08,315.69 350.49,316.25 350.91,316.81 351.33,317.37 351.76,317.91 352.22,318.43 352.69,318.93 353.2,319.4 353.74,319.83 354.29,320.24 354.86,320.61 355.45,320.97 356.05,321.32 356.66,321.66 357.28,322 357.9,322.35 358.53,322.7 359.16,323.08 359.78,323.47 360.4,323.9 361.02,324.35 361.65,324.8 362.29,325.26 362.93,325.73 363.58,326.22 364.22,326.71 364.87,327.22 365.51,327.74 366.15,328.28 366.77,328.84 367.39,329.41 368,330 368.6,330.63 369.2,331.32 369.79,332.05 370.39,332.81 370.97,333.59 371.55,334.36 372.12,335.13 372.68,335.87 373.23,336.57 373.77,337.22 374.29,337.8 374.8,338.3 375.28,338.72 375.71,339.07 376.12,339.36 376.5,339.6 376.88,339.8 377.25,339.97 377.63,340.12 378.03,340.27 378.46,340.42 378.92,340.59 379.43,340.78 380,341 380.64,341.26 381.34,341.54 382.1,341.84 382.9,342.16 383.72,342.47 384.56,342.78 385.41,343.08 386.24,343.37 387.05,343.63 387.82,343.86 388.54,344.05 389.2,344.2 389.8,344.3 390.34,344.36 390.85,344.38 391.33,344.37 391.78,344.34 392.21,344.29 392.64,344.23 393.07,344.16 393.52,344.1 393.98,344.05 394.47,344.01 395,344 395.57,343.99 396.18,343.97 396.83,343.95 397.49,343.92 398.16,343.9 398.84,343.88 399.51,343.88 400.16,343.89 400.78,343.92 401.37,343.98 401.91,344.07 402.4,344.2 402.84,344.37 403.23,344.58 403.6,344.82 403.93,345.09 404.24,345.39 404.52,345.69 404.78,346.01 405.04,346.33 405.28,346.64 405.52,346.95 405.76,347.24 406,347.5 406.22,347.75 406.41,348.02 406.56,348.28 406.7,348.54 406.83,348.8 406.96,349.06 407.1,349.3 407.26,349.52 407.45,349.73 407.68,349.91 407.96,350.07 408.3,350.2 408.71,350.31 409.19,350.4 409.73,350.49 410.31,350.56 410.92,350.6 411.54,350.63 412.18,350.63 412.8,350.61 413.41,350.56 413.99,350.47 414.52,350.36 415,350.2 415.43,350.02 415.83,349.83 416.19,349.62 416.54,349.39 416.87,349.13 417.18,348.84 417.48,348.5 417.78,348.12 418.08,347.68 418.38,347.19 418.68,346.63 419,346 419.33,345.21 419.66,344.2 419.99,343.03 420.32,341.76 420.65,340.43 420.98,339.1 421.3,337.83 421.62,336.67 421.93,335.67 422.23,334.89 422.52,334.38 422.8,334.2 423.07,334.38 423.32,334.89 423.57,335.67 423.81,336.67 424.04,337.83 424.26,339.1 424.48,340.43 424.69,341.76 424.9,343.03 425.1,344.2 425.3,345.21 425.5,346 425.6,346.63 425.56,347.19 425.4,347.68 425.2,348.11 424.99,348.5 424.82,348.83 424.75,349.13 424.82,349.39 425.08,349.62 425.58,349.83 426.37,350.02 427.5,350.2 429.09,350.35 431.17,350.46 433.63,350.52 436.39,350.54 439.34,350.54 442.38,350.51 445.41,350.47 448.33,350.43 451.05,350.38 453.47,350.34 455.49,350.31 457,350.3" fill="none" stroke="#e0603c" stroke-width="1.4" stroke-linejoin="round" />
<polyline points="275.5,350.3 276.31,350.32 277.38,350.38 278.64,350.47 280.07,350.57 281.61,350.67 283.21,350.76 284.83,350.82 286.43,350.84 287.95,350.81 289.35,350.72 290.58,350.56 291.6,350.3 292.42,349.95 293.11,349.52 293.69,349.01 294.17,348.44 294.58,347.83 294.93,347.17 295.25,346.48 295.55,345.78 295.86,345.07 296.19,344.36 296.56,343.67 297,343 297.49,342.34 297.99,341.67 298.5,340.98 299.03,340.29 299.56,339.58 300.09,338.88 300.61,338.17 301.13,337.46 301.63,336.76 302.11,336.06 302.57,335.37 303,334.7 303.4,334.02 303.78,333.33 304.14,332.63 304.48,331.93 304.81,331.24 305.12,330.55 305.43,329.88 305.74,329.23 306.05,328.62 306.36,328.03 306.67,327.49 307,327 307.33,326.55 307.67,326.13 308,325.74 308.33,325.37 308.67,325.04 309,324.74 309.33,324.46 309.67,324.21 310,324 310.33,323.8 310.67,323.64 311,323.5 311.33,323.39 311.66,323.29 311.99,323.23 312.31,323.19 312.64,323.17 312.97,323.19 313.3,323.23 313.63,323.31 313.96,323.43 314.3,323.58 314.65,323.77 315,324 315.36,324.3 315.72,324.67 316.08,325.11 316.44,325.61 316.81,326.13 317.19,326.68 317.56,327.23 317.94,327.77 318.33,328.28 318.72,328.75 319.11,329.16 319.5,329.5 319.9,329.82 320.3,330.16 320.71,330.51 321.11,330.85 321.53,331.16 321.94,331.43 322.36,331.64 322.79,331.76 323.21,331.79 323.64,331.7 324.07,331.48 324.5,331.1 324.94,330.54 325.38,329.81 325.83,328.92 326.28,327.91 326.74,326.8 327.19,325.62 327.65,324.39 328.11,323.14 328.56,321.91 329.01,320.7 329.46,319.56 329.9,318.5 330.33,317.49 330.75,316.47 331.16,315.44 331.57,314.41 331.97,313.39 332.38,312.39 332.78,311.4 333.2,310.44 333.63,309.52 334.07,308.63 334.52,307.79 335,307 335.49,306.23 336,305.47 336.51,304.72 337.04,303.99 337.57,303.29 338.12,302.63 338.67,302.03 339.24,301.49 339.82,301.03 340.4,300.65 341,300.37 341.6,300.2 342.22,300.15 342.86,300.23 343.52,300.41 344.19,300.69 344.87,301.04 345.56,301.44 346.25,301.89 346.94,302.37 347.62,302.86 348.3,303.33 348.96,303.79 349.6,304.2 350.22,304.58 350.83,304.97 351.41,305.35 351.99,305.73 352.57,306.13 353.14,306.54 353.71,306.96 354.3,307.41 354.89,307.88 355.51,308.39 356.14,308.92 356.8,309.5 357.5,310.12 358.24,310.79 359.01,311.5 359.81,312.24 360.61,313.01 361.43,313.8 362.23,314.6 363.01,315.4 363.78,316.2 364.5,316.99 365.18,317.76 365.8,318.5 366.37,319.22 366.88,319.92 367.36,320.62 367.8,321.3 368.22,321.98 368.61,322.66 369,323.35 369.38,324.04 369.76,324.75 370.15,325.48 370.56,326.23 371,327 371.46,327.82 371.94,328.71 372.42,329.64 372.92,330.6 373.42,331.57 373.91,332.54 374.4,333.49 374.88,334.4 375.35,335.27 375.79,336.07 376.21,336.78 376.6,337.4 376.96,337.92 377.28,338.36 377.57,338.73 377.84,339.04 378.09,339.3 378.34,339.51 378.58,339.7 378.83,339.86 379.09,340.02 379.37,340.17 379.67,340.32 380,340.5 380.36,340.69 380.74,340.87 381.14,341.05 381.55,341.21 381.97,341.37 382.4,341.51 382.84,341.64 383.27,341.74 383.71,341.82 384.15,341.88 384.58,341.9 385,341.9 385.42,341.85 385.85,341.76 386.28,341.63 386.72,341.47 387.15,341.29 387.59,341.09 388.02,340.89 388.44,340.68 388.85,340.48 389.25,340.3 389.63,340.13 390,340 390.34,339.87 390.65,339.72 390.94,339.56 391.22,339.4 391.48,339.25 391.74,339.11 392.01,339 392.28,338.92 392.57,338.88 392.88,338.89 393.22,338.96 393.6,339.1 394.01,339.31 394.46,339.6 394.93,339.95 395.42,340.34 395.93,340.78 396.45,341.26 396.97,341.75 397.5,342.26 398.02,342.76 398.53,343.26 399.03,343.75 399.5,344.2 399.96,344.65 400.42,345.14 400.87,345.64 401.32,346.16 401.76,346.67 402.2,347.18 402.63,347.68 403.06,348.14 403.48,348.58 403.89,348.97 404.3,349.32 404.7,349.6 405.09,349.82 405.48,350 405.87,350.13 406.25,350.22 406.62,350.28 406.99,350.31 407.35,350.32 407.7,350.31 408.04,350.29 408.37,350.26 408.69,350.23 409,350.2 409.29,350.24 409.56,350.39 409.81,350.6 410.04,350.84 410.27,351.07 410.49,351.24 410.71,351.33 410.94,351.28 411.18,351.06 411.43,350.64 411.7,349.96 412,349 412.33,347.55 412.67,345.53 413.04,343.07 413.42,340.31 413.81,337.39 414.21,334.42 414.61,331.55 415.01,328.91 415.4,326.63 415.78,324.85 416.15,323.69 416.5,323.3 416.83,323.76 417.16,325 417.48,326.86 417.79,329.23 418.1,331.96 418.4,334.91 418.7,337.96 418.99,340.96 419.27,343.78 419.55,346.28 419.83,348.34 420.1,349.8 420.27,350.75 420.26,351.39 420.15,351.76 419.97,351.91 419.78,351.88 419.65,351.71 419.62,351.44 419.76,351.13 420.1,350.82 420.73,350.55 421.67,350.36 423,350.3 424.85,350.32 427.26,350.33 430.11,350.34 433.29,350.34 436.68,350.34 440.18,350.33 443.67,350.33 447.03,350.32 450.16,350.31 452.94,350.31 455.26,350.3 457,350.3" fill="none" stroke="#6f3846" stroke-width="1.4" stroke-linejoin="round" />
<polyline points="275.5,350.3 276.34,350.32 277.42,350.38 278.71,350.46 280.16,350.55 281.73,350.64 283.36,350.72 285.03,350.78 286.67,350.8 288.26,350.78 289.74,350.69 291.07,350.54 292.2,350.3 293.16,349.97 294.02,349.54 294.79,349.04 295.49,348.47 296.12,347.86 296.71,347.21 297.26,346.55 297.79,345.89 298.31,345.23 298.85,344.61 299.41,344.03 300,343.5 300.61,343.02 301.22,342.55 301.81,342.09 302.4,341.64 302.99,341.21 303.57,340.79 304.15,340.39 304.72,339.99 305.29,339.6 305.86,339.23 306.43,338.86 307,338.5 307.57,338.14 308.14,337.78 308.71,337.43 309.27,337.07 309.83,336.73 310.39,336.41 310.95,336.1 311.51,335.81 312.06,335.56 312.61,335.33 313.16,335.15 313.7,335 314.23,334.9 314.75,334.84 315.26,334.83 315.77,334.84 316.27,334.88 316.77,334.95 317.27,335.03 317.79,335.13 318.31,335.22 318.86,335.32 319.42,335.42 320,335.5 320.61,335.59 321.25,335.72 321.9,335.86 322.58,336.03 323.26,336.19 323.96,336.36 324.65,336.51 325.34,336.64 326.03,336.74 326.7,336.81 327.36,336.83 328,336.8 328.62,336.71 329.22,336.57 329.81,336.38 330.39,336.16 330.96,335.91 331.53,335.64 332.1,335.36 332.67,335.07 333.24,334.78 333.82,334.5 334.4,334.24 335,334 335.61,333.77 336.23,333.52 336.86,333.26 337.5,332.99 338.14,332.73 338.78,332.47 339.42,332.23 340.06,332.01 340.68,331.81 341.3,331.63 341.91,331.5 342.5,331.4 343.07,331.35 343.63,331.33 344.16,331.34 344.69,331.39 345.21,331.45 345.73,331.54 346.25,331.64 346.77,331.75 347.31,331.86 347.85,331.98 348.42,332.09 349,332.2 349.6,332.3 350.21,332.41 350.83,332.52 351.45,332.63 352.09,332.75 352.73,332.88 353.38,333.01 354.05,333.16 354.72,333.3 355.4,333.46 356.1,333.63 356.8,333.8 357.52,333.98 358.26,334.18 359.01,334.38 359.78,334.59 360.55,334.8 361.34,335.03 362.12,335.26 362.91,335.49 363.7,335.74 364.47,335.99 365.24,336.24 366,336.5 366.74,336.77 367.48,337.06 368.2,337.36 368.92,337.67 369.64,337.98 370.36,338.3 371.08,338.62 371.8,338.93 372.53,339.24 373.27,339.54 374.03,339.83 374.8,340.1 375.59,340.36 376.38,340.62 377.19,340.87 378,341.11 378.83,341.35 379.66,341.59 380.49,341.81 381.33,342.03 382.17,342.24 383.01,342.44 383.86,342.62 384.7,342.8 385.56,342.96 386.45,343.1 387.37,343.22 388.3,343.33 389.23,343.43 390.16,343.52 391.06,343.62 391.94,343.71 392.79,343.82 393.59,343.93 394.33,344.06 395,344.2 395.6,344.36 396.14,344.52 396.61,344.68 397.04,344.85 397.44,345.02 397.81,345.21 398.16,345.4 398.5,345.6 398.85,345.81 399.2,346.03 399.59,346.26 400,346.5 400.44,346.77 400.87,347.09 401.32,347.44 401.76,347.81 402.21,348.19 402.66,348.57 403.12,348.93 403.57,349.28 404.03,349.59 404.48,349.85 404.94,350.06 405.4,350.2 405.86,350.31 406.32,350.43 406.79,350.54 407.26,350.62 407.72,350.68 408.19,350.68 408.66,350.63 409.13,350.5 409.6,350.29 410.07,349.97 410.54,349.55 411,349 411.47,348.22 411.95,347.14 412.43,345.85 412.91,344.4 413.4,342.86 413.88,341.31 414.36,339.8 414.82,338.41 415.27,337.21 415.7,336.27 416.11,335.64 416.5,335.4 416.87,335.59 417.23,336.17 417.58,337.06 417.91,338.21 418.23,339.54 418.54,340.99 418.83,342.5 419.1,343.99 419.35,345.4 419.59,346.67 419.81,347.72 420,348.5 420.05,349.05 419.89,349.46 419.58,349.76 419.19,349.97 418.78,350.1 418.41,350.16 418.16,350.18 418.09,350.17 418.26,350.15 418.74,350.14 419.6,350.15 420.9,350.2 422.79,350.26 425.3,350.31 428.3,350.34 431.66,350.36 435.27,350.36 439.01,350.36 442.74,350.35 446.34,350.33 449.69,350.32 452.67,350.31 455.14,350.3 457,350.3" fill="none" stroke="#4a6498" stroke-width="1.4" stroke-linejoin="round" />
<rect x="276" y="290.6" width="181" height="59.8" fill="none" stroke="#1a1a1a" stroke-width="1.1"/>
<line x1="273.2" y1="350.3" x2="276" y2="350.3" stroke="#1a1a1a" stroke-width="0.9" />
<text x="271.7" y="353.25" font-size="8.2" text-anchor="end" font-weight="normal" fill="#1a1a1a" >0.0</text>
<line x1="273.2" y1="330.5" x2="276" y2="330.5" stroke="#1a1a1a" stroke-width="0.9" />
<text x="271.7" y="333.45" font-size="8.2" text-anchor="end" font-weight="normal" fill="#1a1a1a" >0.2</text>
<line x1="273.2" y1="310.7" x2="276" y2="310.7" stroke="#1a1a1a" stroke-width="0.9" />
<text x="271.7" y="313.65" font-size="8.2" text-anchor="end" font-weight="normal" fill="#1a1a1a" >0.4</text>
<line x1="273.2" y1="290.9" x2="276" y2="290.9" stroke="#1a1a1a" stroke-width="0.9" />
<text x="271.7" y="293.85" font-size="8.2" text-anchor="end" font-weight="normal" fill="#1a1a1a" >0.6</text>
<line x1="274.4" y1="340.4" x2="276" y2="340.4" stroke="#1a1a1a" stroke-width="0.9" />
<line x1="274.4" y1="320.6" x2="276" y2="320.6" stroke="#1a1a1a" stroke-width="0.9" />
<line x1="274.4" y1="300.8" x2="276" y2="300.8" stroke="#1a1a1a" stroke-width="0.9" />
<line x1="276" y1="350.4" x2="276" y2="353.2" stroke="#1a1a1a" stroke-width="0.9" />
<line x1="298.62" y1="350.4" x2="298.62" y2="353.2" stroke="#1a1a1a" stroke-width="0.9" />
<line x1="321.25" y1="350.4" x2="321.25" y2="353.2" stroke="#1a1a1a" stroke-width="0.9" />
<line x1="343.88" y1="350.4" x2="343.88" y2="353.2" stroke="#1a1a1a" stroke-width="0.9" />
<line x1="366.5" y1="350.4" x2="366.5" y2="353.2" stroke="#1a1a1a" stroke-width="0.9" />
<line x1="389.12" y1="350.4" x2="389.12" y2="353.2" stroke="#1a1a1a" stroke-width="0.9" />
<line x1="411.75" y1="350.4" x2="411.75" y2="353.2" stroke="#1a1a1a" stroke-width="0.9" />
<line x1="434.38" y1="350.4" x2="434.38" y2="353.2" stroke="#1a1a1a" stroke-width="0.9" />
<line x1="457" y1="350.4" x2="457" y2="353.2" stroke="#1a1a1a" stroke-width="0.9" />
<line x1="282.81" y1="350.4" x2="282.81" y2="352" stroke="#1a1a1a" stroke-width="0.9" />
<line x1="286.79" y1="350.4" x2="286.79" y2="352" stroke="#1a1a1a" stroke-width="0.9" />
<line x1="289.62" y1="350.4" x2="289.62" y2="352" stroke="#1a1a1a" stroke-width="0.9" />
<line x1="291.81" y1="350.4" x2="291.81" y2="352" stroke="#1a1a1a" stroke-width="0.9" />
<line x1="293.61" y1="350.4" x2="293.61" y2="352" stroke="#1a1a1a" stroke-width="0.9" />
<line x1="295.12" y1="350.4" x2="295.12" y2="352" stroke="#1a1a1a" stroke-width="0.9" />
<line x1="296.43" y1="350.4" x2="296.43" y2="352" stroke="#1a1a1a" stroke-width="0.9" />
<line x1="297.59" y1="350.4" x2="297.59" y2="352" stroke="#1a1a1a" stroke-width="0.9" />
<line x1="305.44" y1="350.4" x2="305.44" y2="352" stroke="#1a1a1a" stroke-width="0.9" />
<line x1="309.42" y1="350.4" x2="309.42" y2="352" stroke="#1a1a1a" stroke-width="0.9" />
<line x1="312.25" y1="350.4" x2="312.25" y2="352" stroke="#1a1a1a" stroke-width="0.9" />
<line x1="314.44" y1="350.4" x2="314.44" y2="352" stroke="#1a1a1a" stroke-width="0.9" />
<line x1="316.23" y1="350.4" x2="316.23" y2="352" stroke="#1a1a1a" stroke-width="0.9" />
<line x1="317.75" y1="350.4" x2="317.75" y2="352" stroke="#1a1a1a" stroke-width="0.9" />
<line x1="319.06" y1="350.4" x2="319.06" y2="352" stroke="#1a1a1a" stroke-width="0.9" />
<line x1="320.21" y1="350.4" x2="320.21" y2="352" stroke="#1a1a1a" stroke-width="0.9" />
<line x1="328.06" y1="350.4" x2="328.06" y2="352" stroke="#1a1a1a" stroke-width="0.9" />
<line x1="332.04" y1="350.4" x2="332.04" y2="352" stroke="#1a1a1a" stroke-width="0.9" />
<line x1="334.87" y1="350.4" x2="334.87" y2="352" stroke="#1a1a1a" stroke-width="0.9" />
<line x1="337.06" y1="350.4" x2="337.06" y2="352" stroke="#1a1a1a" stroke-width="0.9" />
<line x1="338.86" y1="350.4" x2="338.86" y2="352" stroke="#1a1a1a" stroke-width="0.9" />
<line x1="340.37" y1="350.4" x2="340.37" y2="352" stroke="#1a1a1a" stroke-width="0.9" />
<line x1="341.68" y1="350.4" x2="341.68" y2="352" stroke="#1a1a1a" stroke-width="0.9" />
<line x1="342.84" y1="350.4" x2="342.84" y2="352" stroke="#1a1a1a" stroke-width="0.9" />
<line x1="350.69" y1="350.4" x2="350.69" y2="352" stroke="#1a1a1a" stroke-width="0.9" />
<line x1="354.67" y1="350.4" x2="354.67" y2="352" stroke="#1a1a1a" stroke-width="0.9" />
<line x1="357.5" y1="350.4" x2="357.5" y2="352" stroke="#1a1a1a" stroke-width="0.9" />
<line x1="359.69" y1="350.4" x2="359.69" y2="352" stroke="#1a1a1a" stroke-width="0.9" />
<line x1="361.48" y1="350.4" x2="361.48" y2="352" stroke="#1a1a1a" stroke-width="0.9" />
<line x1="363" y1="350.4" x2="363" y2="352" stroke="#1a1a1a" stroke-width="0.9" />
<line x1="364.31" y1="350.4" x2="364.31" y2="352" stroke="#1a1a1a" stroke-width="0.9" />
<line x1="365.46" y1="350.4" x2="365.46" y2="352" stroke="#1a1a1a" stroke-width="0.9" />
<line x1="373.31" y1="350.4" x2="373.31" y2="352" stroke="#1a1a1a" stroke-width="0.9" />
<line x1="377.29" y1="350.4" x2="377.29" y2="352" stroke="#1a1a1a" stroke-width="0.9" />
<line x1="380.12" y1="350.4" x2="380.12" y2="352" stroke="#1a1a1a" stroke-width="0.9" />
<line x1="382.31" y1="350.4" x2="382.31" y2="352" stroke="#1a1a1a" stroke-width="0.9" />
<line x1="384.11" y1="350.4" x2="384.11" y2="352" stroke="#1a1a1a" stroke-width="0.9" />
<line x1="385.62" y1="350.4" x2="385.62" y2="352" stroke="#1a1a1a" stroke-width="0.9" />
<line x1="386.93" y1="350.4" x2="386.93" y2="352" stroke="#1a1a1a" stroke-width="0.9" />
<line x1="388.09" y1="350.4" x2="388.09" y2="352" stroke="#1a1a1a" stroke-width="0.9" />
<line x1="395.94" y1="350.4" x2="395.94" y2="352" stroke="#1a1a1a" stroke-width="0.9" />
<line x1="399.92" y1="350.4" x2="399.92" y2="352" stroke="#1a1a1a" stroke-width="0.9" />
<line x1="402.75" y1="350.4" x2="402.75" y2="352" stroke="#1a1a1a" stroke-width="0.9" />
<line x1="404.94" y1="350.4" x2="404.94" y2="352" stroke="#1a1a1a" stroke-width="0.9" />
<line x1="406.73" y1="350.4" x2="406.73" y2="352" stroke="#1a1a1a" stroke-width="0.9" />
<line x1="408.25" y1="350.4" x2="408.25" y2="352" stroke="#1a1a1a" stroke-width="0.9" />
<line x1="409.56" y1="350.4" x2="409.56" y2="352" stroke="#1a1a1a" stroke-width="0.9" />
<line x1="410.71" y1="350.4" x2="410.71" y2="352" stroke="#1a1a1a" stroke-width="0.9" />
<line x1="418.56" y1="350.4" x2="418.56" y2="352" stroke="#1a1a1a" stroke-width="0.9" />
<line x1="422.54" y1="350.4" x2="422.54" y2="352" stroke="#1a1a1a" stroke-width="0.9" />
<line x1="425.37" y1="350.4" x2="425.37" y2="352" stroke="#1a1a1a" stroke-width="0.9" />
<line x1="427.56" y1="350.4" x2="427.56" y2="352" stroke="#1a1a1a" stroke-width="0.9" />
<line x1="429.36" y1="350.4" x2="429.36" y2="352" stroke="#1a1a1a" stroke-width="0.9" />
<line x1="430.87" y1="350.4" x2="430.87" y2="352" stroke="#1a1a1a" stroke-width="0.9" />
<line x1="432.18" y1="350.4" x2="432.18" y2="352" stroke="#1a1a1a" stroke-width="0.9" />
<line x1="433.34" y1="350.4" x2="433.34" y2="352" stroke="#1a1a1a" stroke-width="0.9" />
<line x1="441.19" y1="350.4" x2="441.19" y2="352" stroke="#1a1a1a" stroke-width="0.9" />
<line x1="445.17" y1="350.4" x2="445.17" y2="352" stroke="#1a1a1a" stroke-width="0.9" />
<line x1="448" y1="350.4" x2="448" y2="352" stroke="#1a1a1a" stroke-width="0.9" />
<line x1="450.19" y1="350.4" x2="450.19" y2="352" stroke="#1a1a1a" stroke-width="0.9" />
<line x1="451.98" y1="350.4" x2="451.98" y2="352" stroke="#1a1a1a" stroke-width="0.9" />
<line x1="453.5" y1="350.4" x2="453.5" y2="352" stroke="#1a1a1a" stroke-width="0.9" />
<line x1="454.81" y1="350.4" x2="454.81" y2="352" stroke="#1a1a1a" stroke-width="0.9" />
<line x1="455.96" y1="350.4" x2="455.96" y2="352" stroke="#1a1a1a" stroke-width="0.9" />
<text x="275.7" y="363" font-size="8.2" text-anchor="middle" font-weight="normal" fill="#1a1a1a" >10<tspan dy="-3.44" font-size="5.58">-2</tspan></text>
<text x="298.32" y="363" font-size="8.2" text-anchor="middle" font-weight="normal" fill="#1a1a1a" >10<tspan dy="-3.44" font-size="5.58">-1</tspan></text>
<text x="320.95" y="363" font-size="8.2" text-anchor="middle" font-weight="normal" fill="#1a1a1a" >10<tspan dy="-3.44" font-size="5.58">0</tspan></text>
<text x="343.57" y="363" font-size="8.2" text-anchor="middle" font-weight="normal" fill="#1a1a1a" >10<tspan dy="-3.44" font-size="5.58">1</tspan></text>
<text x="366.2" y="363" font-size="8.2" text-anchor="middle" font-weight="normal" fill="#1a1a1a" >10<tspan dy="-3.44" font-size="5.58">2</tspan></text>
<text x="388.82" y="363" font-size="8.2" text-anchor="middle" font-weight="normal" fill="#1a1a1a" >10<tspan dy="-3.44" font-size="5.58">3</tspan></text>
<text x="411.45" y="363" font-size="8.2" text-anchor="middle" font-weight="normal" fill="#1a1a1a" >10<tspan dy="-3.44" font-size="5.58">4</tspan></text>
<text x="434.07" y="363" font-size="8.2" text-anchor="middle" font-weight="normal" fill="#1a1a1a" >10<tspan dy="-3.44" font-size="5.58">5</tspan></text>
<text x="456.7" y="363" font-size="8.2" text-anchor="middle" font-weight="normal" fill="#1a1a1a" >10<tspan dy="-3.44" font-size="5.58">6</tspan></text>
<text x="366.6" y="368.7" font-size="8.4" text-anchor="middle" font-weight="normal" fill="#1a1a1a" >Ferquency (Hz)</text>
<text x="256.5" y="321" font-size="7.7" text-anchor="middle" font-weight="normal" fill="#1a1a1a" transform="rotate(-90 256.5 321.0)">DRT (Ω cm<tspan dy="-3.1" font-size="5.1">2</tspan><tspan dy="3.1"> s)</tspan></text>
<text x="237" y="288.4" font-size="14.5" text-anchor="start" font-weight="bold" fill="#1a1a1a" >(f)</text>
<text x="296" y="319.2" font-size="8.2" text-anchor="middle" font-weight="normal" fill="#1a1a1a" >P2</text>
<text x="325.7" y="302" font-size="8.2" text-anchor="middle" font-weight="normal" fill="#1a1a1a" >P1</text>
<line x1="516.9" y1="335" x2="656.99" y2="243.21" stroke="#e0a83a" stroke-width="1.0" />
<rect x="515.1" y="334" width="3.6" height="3.6" fill="#e0a83a"/>
<rect x="544.43" y="314.2" width="3.6" height="3.6" fill="#e0a83a"/>
<rect x="577.12" y="290.9" width="3.6" height="3.6" fill="#e0a83a"/>
<rect x="613.78" y="268.4" width="3.6" height="3.6" fill="#e0a83a"/>
<rect x="655.19" y="242.2" width="3.6" height="3.6" fill="#e0a83a"/>
<line x1="516.9" y1="329.45" x2="656.99" y2="220.63" stroke="#e8643c" stroke-width="1.0" />
<rect x="515.1" y="329" width="3.6" height="3.6" fill="#e8643c"/>
<rect x="544.43" y="304.1" width="3.6" height="3.6" fill="#e8643c"/>
<rect x="577.12" y="278.7" width="3.6" height="3.6" fill="#e8643c"/>
<rect x="613.78" y="249.9" width="3.6" height="3.6" fill="#e8643c"/>
<rect x="655.19" y="220.1" width="3.6" height="3.6" fill="#e8643c"/>
<line x1="516.9" y1="318.41" x2="656.99" y2="229.61" stroke="#7a3a4c" stroke-width="1.0" />
<rect x="515.1" y="317.4" width="3.6" height="3.6" fill="#7a3a4c"/>
<rect x="544.43" y="295.8" width="3.6" height="3.6" fill="#7a3a4c"/>
<rect x="577.12" y="277.9" width="3.6" height="3.6" fill="#7a3a4c"/>
<rect x="613.78" y="256.2" width="3.6" height="3.6" fill="#7a3a4c"/>
<rect x="655.19" y="226.5" width="3.6" height="3.6" fill="#7a3a4c"/>
<line x1="516.9" y1="329.56" x2="656.99" y2="235.45" stroke="#46609c" stroke-width="1.0" />
<rect x="515.1" y="326.2" width="3.6" height="3.6" fill="#46609c"/>
<rect x="544.43" y="309.7" width="3.6" height="3.6" fill="#46609c"/>
<rect x="577.12" y="286.2" width="3.6" height="3.6" fill="#46609c"/>
<rect x="613.78" y="262.1" width="3.6" height="3.6" fill="#46609c"/>
<rect x="655.19" y="232.8" width="3.6" height="3.6" fill="#46609c"/>
<rect x="502.6" y="211.4" width="178.4" height="133.2" fill="none" stroke="#1a1a1a" stroke-width="1.1"/>
<line x1="499.8" y1="326.7" x2="502.6" y2="326.7" stroke="#1a1a1a" stroke-width="0.9" />
<text x="498.3" y="329.65" font-size="8.2" text-anchor="end" font-weight="normal" fill="#1a1a1a" >0.1</text>
<line x1="499.8" y1="264.4" x2="502.6" y2="264.4" stroke="#1a1a1a" stroke-width="0.9" />
<text x="498.3" y="267.35" font-size="8.2" text-anchor="end" font-weight="normal" fill="#1a1a1a" >1</text>
<line x1="501" y1="340.52" x2="502.6" y2="340.52" stroke="#1a1a1a" stroke-width="0.9" />
<line x1="501" y1="336.35" x2="502.6" y2="336.35" stroke="#1a1a1a" stroke-width="0.9" />
<line x1="501" y1="332.74" x2="502.6" y2="332.74" stroke="#1a1a1a" stroke-width="0.9" />
<line x1="501" y1="329.55" x2="502.6" y2="329.55" stroke="#1a1a1a" stroke-width="0.9" />
<line x1="501" y1="307.95" x2="502.6" y2="307.95" stroke="#1a1a1a" stroke-width="0.9" />
<line x1="501" y1="296.98" x2="502.6" y2="296.98" stroke="#1a1a1a" stroke-width="0.9" />
<line x1="501" y1="289.19" x2="502.6" y2="289.19" stroke="#1a1a1a" stroke-width="0.9" />
<line x1="501" y1="283.15" x2="502.6" y2="283.15" stroke="#1a1a1a" stroke-width="0.9" />
<line x1="501" y1="278.22" x2="502.6" y2="278.22" stroke="#1a1a1a" stroke-width="0.9" />
<line x1="501" y1="274.05" x2="502.6" y2="274.05" stroke="#1a1a1a" stroke-width="0.9" />
<line x1="501" y1="270.44" x2="502.6" y2="270.44" stroke="#1a1a1a" stroke-width="0.9" />
<line x1="501" y1="267.25" x2="502.6" y2="267.25" stroke="#1a1a1a" stroke-width="0.9" />
<line x1="501" y1="245.65" x2="502.6" y2="245.65" stroke="#1a1a1a" stroke-width="0.9" />
<line x1="501" y1="234.68" x2="502.6" y2="234.68" stroke="#1a1a1a" stroke-width="0.9" />
<line x1="501" y1="226.89" x2="502.6" y2="226.89" stroke="#1a1a1a" stroke-width="0.9" />
<line x1="501" y1="220.85" x2="502.6" y2="220.85" stroke="#1a1a1a" stroke-width="0.9" />
<line x1="501" y1="215.92" x2="502.6" y2="215.92" stroke="#1a1a1a" stroke-width="0.9" />
<line x1="501" y1="211.75" x2="502.6" y2="211.75" stroke="#1a1a1a" stroke-width="0.9" />
<line x1="512.9" y1="344.6" x2="512.9" y2="347.4" stroke="#1a1a1a" stroke-width="0.9" />
<text x="512.9" y="356" font-size="8.2" text-anchor="middle" font-weight="normal" fill="#1a1a1a" >1.02</text>
<line x1="544.52" y1="344.6" x2="544.52" y2="347.4" stroke="#1a1a1a" stroke-width="0.9" />
<text x="544.52" y="356" font-size="8.2" text-anchor="middle" font-weight="normal" fill="#1a1a1a" >1.08</text>
<line x1="576.14" y1="344.6" x2="576.14" y2="347.4" stroke="#1a1a1a" stroke-width="0.9" />
<text x="576.14" y="356" font-size="8.2" text-anchor="middle" font-weight="normal" fill="#1a1a1a" >1.14</text>
<line x1="607.76" y1="344.6" x2="607.76" y2="347.4" stroke="#1a1a1a" stroke-width="0.9" />
<text x="607.76" y="356" font-size="8.2" text-anchor="middle" font-weight="normal" fill="#1a1a1a" >1.20</text>
<line x1="639.38" y1="344.6" x2="639.38" y2="347.4" stroke="#1a1a1a" stroke-width="0.9" />
<text x="639.38" y="356" font-size="8.2" text-anchor="middle" font-weight="normal" fill="#1a1a1a" >1.26</text>
<line x1="671" y1="344.6" x2="671" y2="347.4" stroke="#1a1a1a" stroke-width="0.9" />
<text x="671" y="356" font-size="8.2" text-anchor="middle" font-weight="normal" fill="#1a1a1a" >1.32</text>
<line x1="528.71" y1="344.6" x2="528.71" y2="346.2" stroke="#1a1a1a" stroke-width="0.9" />
<line x1="560.33" y1="344.6" x2="560.33" y2="346.2" stroke="#1a1a1a" stroke-width="0.9" />
<line x1="591.95" y1="344.6" x2="591.95" y2="346.2" stroke="#1a1a1a" stroke-width="0.9" />
<line x1="623.57" y1="344.6" x2="623.57" y2="346.2" stroke="#1a1a1a" stroke-width="0.9" />
<line x1="655.19" y1="344.6" x2="655.19" y2="346.2" stroke="#1a1a1a" stroke-width="0.9" />
<line x1="516.9" y1="208.8" x2="516.9" y2="211.4" stroke="#1a1a1a" stroke-width="0.9" />
<line x1="546.23" y1="208.8" x2="546.23" y2="211.4" stroke="#1a1a1a" stroke-width="0.9" />
<line x1="578.92" y1="208.8" x2="578.92" y2="211.4" stroke="#1a1a1a" stroke-width="0.9" />
<line x1="615.58" y1="208.8" x2="615.58" y2="211.4" stroke="#1a1a1a" stroke-width="0.9" />
<line x1="656.99" y1="208.8" x2="656.99" y2="211.4" stroke="#1a1a1a" stroke-width="0.9" />
<line x1="531.18" y1="209.9" x2="531.18" y2="211.4" stroke="#1a1a1a" stroke-width="0.9" />
<line x1="562.12" y1="209.9" x2="562.12" y2="211.4" stroke="#1a1a1a" stroke-width="0.9" />
<line x1="596.71" y1="209.9" x2="596.71" y2="211.4" stroke="#1a1a1a" stroke-width="0.9" />
<line x1="635.64" y1="209.9" x2="635.64" y2="211.4" stroke="#1a1a1a" stroke-width="0.9" />
<line x1="679.76" y1="209.9" x2="679.76" y2="211.4" stroke="#1a1a1a" stroke-width="0.9" />
<text x="516.8" y="206.2" font-size="8.2" text-anchor="middle" font-weight="normal" fill="#1a1a1a" >700</text>
<text x="546.1" y="206.2" font-size="8.2" text-anchor="middle" font-weight="normal" fill="#1a1a1a" >650</text>
<text x="579.7" y="206.2" font-size="8.2" text-anchor="middle" font-weight="normal" fill="#1a1a1a" >600</text>
<text x="616.6" y="206.2" font-size="8.2" text-anchor="middle" font-weight="normal" fill="#1a1a1a" >550</text>
<text x="657.8" y="206.2" font-size="8.2" text-anchor="middle" font-weight="normal" fill="#1a1a1a" >500</text>
<text x="592" y="195" font-size="8.2" text-anchor="middle" font-weight="normal" fill="#1a1a1a" >Temperature (<tspan font-size="5.5" dy="-2.6">o</tspan><tspan dy="2.6">C)</tspan></text>
<text x="487.3" y="284.5" font-size="8.2" text-anchor="middle" font-weight="normal" fill="#1a1a1a" transform="rotate(-90 487.3 284.5)">ASR (Ω cm<tspan dy="-3.1" font-size="5.1">2</tspan><tspan dy="3.1">)</tspan></text>
<text x="592" y="368.3" font-size="8.2" text-anchor="middle" font-weight="normal" fill="#1a1a1a" >1000/T (K<tspan dy="-3.1" font-size="5.1">-1</tspan><tspan dy="3.1">)</tspan></text>
<rect x="469" y="197" width="22" height="21" fill="#fff"/>
<text x="471" y="213.2" font-size="14.5" text-anchor="start" font-weight="bold" fill="#1a1a1a" >(g)</text>
<rect x="509.8" y="220.7" width="3.4" height="3.4" fill="#e0a83a"/>
<text x="520.6" y="225.3" font-size="8.2" text-anchor="start" font-weight="normal" fill="#1a1a1a" >PLNBSCC</text>
<text x="563.1" y="225.3" font-size="8.2" text-anchor="start" font-weight="normal" fill="#1a1a1a" >Ea=1.09 eV</text>
<rect x="509.8" y="230.45" width="3.4" height="3.4" fill="#e8643c"/>
<text x="520.6" y="235.05" font-size="8.2" text-anchor="start" font-weight="normal" fill="#1a1a1a" >PLNBC</text>
<text x="563.1" y="235.05" font-size="8.2" text-anchor="start" font-weight="normal" fill="#1a1a1a" >Ea=1.31 eV</text>
<rect x="509.8" y="240.2" width="3.4" height="3.4" fill="#7a3a4c"/>
<text x="520.6" y="244.8" font-size="8.2" text-anchor="start" font-weight="normal" fill="#1a1a1a" >PBSCC</text>
<text x="563.1" y="244.8" font-size="8.2" text-anchor="start" font-weight="normal" fill="#1a1a1a" >Ea=1.07 eV</text>
<rect x="509.8" y="249.95" width="3.4" height="3.4" fill="#46609c"/>
<text x="520.6" y="254.55" font-size="8.2" text-anchor="start" font-weight="normal" fill="#1a1a1a" >PBC</text>
<text x="563.1" y="254.55" font-size="8.2" text-anchor="start" font-weight="normal" fill="#1a1a1a" >Ea=1.13 eV</text>
<text x="673.7" y="336" font-size="8.2" text-anchor="end" font-weight="normal" fill="#1a1a1a" >5% H<tspan font-size="5.5" dy="2.2">2</tspan><tspan dy="-2.2">O-air</tspan></text>
</svg></body></html>
